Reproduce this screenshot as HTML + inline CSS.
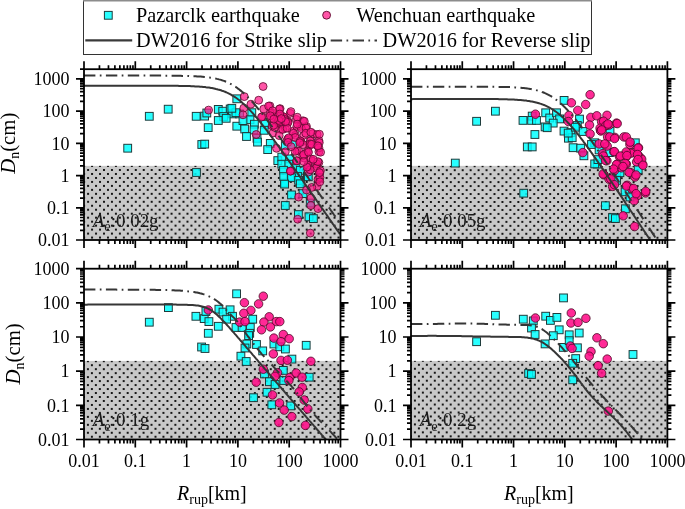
<!DOCTYPE html><html><head><meta charset="utf-8"><style>html,body{margin:0;padding:0;background:#fff;}svg{display:block;will-change:transform;}</style></head><body>
<svg width="685" height="509" viewBox="0 0 685 509" style="font-family:'Liberation Serif',serif">
<defs>
<pattern id="dots1" patternUnits="userSpaceOnUse" width="7.95" height="7.95" x="-71.90" y="10.00"><rect x="0" y="0" width="2" height="2" fill="#151515"/><rect x="3.975" y="3.975" width="2" height="2" fill="#151515"/></pattern>
<pattern id="dots2" patternUnits="userSpaceOnUse" width="7.95" height="7.95" x="255.00" y="10.20"><rect x="0" y="0" width="2" height="2" fill="#151515"/><rect x="3.975" y="3.975" width="2" height="2" fill="#151515"/></pattern>
<pattern id="dots3" patternUnits="userSpaceOnUse" width="7.95" height="7.95" x="-68.10" y="205.20"><rect x="0" y="0" width="2" height="2" fill="#151515"/><rect x="3.975" y="3.975" width="2" height="2" fill="#151515"/></pattern>
<pattern id="dots4" patternUnits="userSpaceOnUse" width="7.95" height="7.95" x="258.90" y="204.80"><rect x="0" y="0" width="2" height="2" fill="#151515"/><rect x="3.975" y="3.975" width="2" height="2" fill="#151515"/></pattern>
<clipPath id="clip1"><rect x="84" y="69.20" width="256.50" height="170.80"/></clipPath>
<clipPath id="clip2"><rect x="411" y="69.20" width="256.40" height="170.80"/></clipPath>
<clipPath id="clip3"><rect x="84" y="268.70" width="256.50" height="170.80"/></clipPath>
<clipPath id="clip4"><rect x="411" y="268.70" width="256.40" height="170.80"/></clipPath>
</defs>
<rect x="84" y="165.86" width="256.50" height="74.14" fill="#c8c8c8"/>
<rect x="84" y="165.86" width="256.50" height="74.14" fill="url(#dots1)"/>
<g clip-path="url(#clip1)">
<rect x="123.8" y="144.3" width="7.8" height="7.8" fill="#00ffff" fill-opacity="0.84" stroke="#1e3c3c" stroke-width="1"/>
<rect x="145.4" y="112.4" width="7.8" height="7.8" fill="#00ffff" fill-opacity="0.84" stroke="#1e3c3c" stroke-width="1"/>
<rect x="164.3" y="105.3" width="7.8" height="7.8" fill="#00ffff" fill-opacity="0.84" stroke="#1e3c3c" stroke-width="1"/>
<rect x="192.3" y="112.4" width="7.8" height="7.8" fill="#00ffff" fill-opacity="0.84" stroke="#1e3c3c" stroke-width="1"/>
<rect x="192.6" y="168.6" width="7.8" height="7.8" fill="#00ffff" fill-opacity="0.84" stroke="#1e3c3c" stroke-width="1"/>
<rect x="200.7" y="112.2" width="7.8" height="7.8" fill="#00ffff" fill-opacity="0.84" stroke="#1e3c3c" stroke-width="1"/>
<rect x="202.9" y="109.1" width="7.8" height="7.8" fill="#00ffff" fill-opacity="0.84" stroke="#1e3c3c" stroke-width="1"/>
<rect x="204.3" y="123.7" width="7.8" height="7.8" fill="#00ffff" fill-opacity="0.84" stroke="#1e3c3c" stroke-width="1"/>
<rect x="197.9" y="140.6" width="7.8" height="7.8" fill="#00ffff" fill-opacity="0.84" stroke="#1e3c3c" stroke-width="1"/>
<rect x="200.8" y="140.2" width="7.8" height="7.8" fill="#00ffff" fill-opacity="0.84" stroke="#1e3c3c" stroke-width="1"/>
<rect x="214.4" y="105.5" width="7.8" height="7.8" fill="#00ffff" fill-opacity="0.84" stroke="#1e3c3c" stroke-width="1"/>
<rect x="218.8" y="107.3" width="7.8" height="7.8" fill="#00ffff" fill-opacity="0.84" stroke="#1e3c3c" stroke-width="1"/>
<rect x="226.3" y="105.1" width="7.8" height="7.8" fill="#00ffff" fill-opacity="0.84" stroke="#1e3c3c" stroke-width="1"/>
<rect x="228.5" y="110.0" width="7.8" height="7.8" fill="#00ffff" fill-opacity="0.84" stroke="#1e3c3c" stroke-width="1"/>
<rect x="219.7" y="112.6" width="7.8" height="7.8" fill="#00ffff" fill-opacity="0.84" stroke="#1e3c3c" stroke-width="1"/>
<rect x="214.4" y="116.6" width="7.8" height="7.8" fill="#00ffff" fill-opacity="0.84" stroke="#1e3c3c" stroke-width="1"/>
<rect x="222.3" y="114.4" width="7.8" height="7.8" fill="#00ffff" fill-opacity="0.84" stroke="#1e3c3c" stroke-width="1"/>
<rect x="232.9" y="94.9" width="7.8" height="7.8" fill="#00ffff" fill-opacity="0.84" stroke="#1e3c3c" stroke-width="1"/>
<rect x="232.9" y="122.3" width="7.8" height="7.8" fill="#00ffff" fill-opacity="0.84" stroke="#1e3c3c" stroke-width="1"/>
<rect x="235.6" y="110.0" width="7.8" height="7.8" fill="#00ffff" fill-opacity="0.84" stroke="#1e3c3c" stroke-width="1"/>
<rect x="232.0" y="108.8" width="7.8" height="7.8" fill="#00ffff" fill-opacity="0.84" stroke="#1e3c3c" stroke-width="1"/>
<rect x="247.9" y="108.8" width="7.8" height="7.8" fill="#00ffff" fill-opacity="0.84" stroke="#1e3c3c" stroke-width="1"/>
<rect x="246.1" y="115.8" width="7.8" height="7.8" fill="#00ffff" fill-opacity="0.84" stroke="#1e3c3c" stroke-width="1"/>
<rect x="239.1" y="116.7" width="7.8" height="7.8" fill="#00ffff" fill-opacity="0.84" stroke="#1e3c3c" stroke-width="1"/>
<rect x="240.8" y="125.1" width="7.8" height="7.8" fill="#00ffff" fill-opacity="0.84" stroke="#1e3c3c" stroke-width="1"/>
<rect x="250.5" y="120.3" width="7.8" height="7.8" fill="#00ffff" fill-opacity="0.84" stroke="#1e3c3c" stroke-width="1"/>
<rect x="250.1" y="126.0" width="7.8" height="7.8" fill="#00ffff" fill-opacity="0.84" stroke="#1e3c3c" stroke-width="1"/>
<rect x="261.1" y="120.3" width="7.8" height="7.8" fill="#00ffff" fill-opacity="0.84" stroke="#1e3c3c" stroke-width="1"/>
<rect x="260.3" y="126.4" width="7.8" height="7.8" fill="#00ffff" fill-opacity="0.84" stroke="#1e3c3c" stroke-width="1"/>
<rect x="242.6" y="132.6" width="7.8" height="7.8" fill="#00ffff" fill-opacity="0.84" stroke="#1e3c3c" stroke-width="1"/>
<rect x="253.1" y="134.4" width="7.8" height="7.8" fill="#00ffff" fill-opacity="0.84" stroke="#1e3c3c" stroke-width="1"/>
<rect x="253.6" y="138.2" width="7.8" height="7.8" fill="#00ffff" fill-opacity="0.84" stroke="#1e3c3c" stroke-width="1"/>
<rect x="266.4" y="139.5" width="7.8" height="7.8" fill="#00ffff" fill-opacity="0.84" stroke="#1e3c3c" stroke-width="1"/>
<rect x="263.8" y="145.7" width="7.8" height="7.8" fill="#00ffff" fill-opacity="0.84" stroke="#1e3c3c" stroke-width="1"/>
<rect x="273.9" y="156.7" width="7.8" height="7.8" fill="#00ffff" fill-opacity="0.84" stroke="#1e3c3c" stroke-width="1"/>
<rect x="281.4" y="141.7" width="7.8" height="7.8" fill="#00ffff" fill-opacity="0.84" stroke="#1e3c3c" stroke-width="1"/>
<rect x="288.5" y="140.8" width="7.8" height="7.8" fill="#00ffff" fill-opacity="0.84" stroke="#1e3c3c" stroke-width="1"/>
<rect x="277.9" y="153.2" width="7.8" height="7.8" fill="#00ffff" fill-opacity="0.84" stroke="#1e3c3c" stroke-width="1"/>
<rect x="285.8" y="155.0" width="7.8" height="7.8" fill="#00ffff" fill-opacity="0.84" stroke="#1e3c3c" stroke-width="1"/>
<rect x="277.9" y="160.3" width="7.8" height="7.8" fill="#00ffff" fill-opacity="0.84" stroke="#1e3c3c" stroke-width="1"/>
<rect x="284.9" y="160.3" width="7.8" height="7.8" fill="#00ffff" fill-opacity="0.84" stroke="#1e3c3c" stroke-width="1"/>
<rect x="279.6" y="166.4" width="7.8" height="7.8" fill="#00ffff" fill-opacity="0.84" stroke="#1e3c3c" stroke-width="1"/>
<rect x="292.0" y="164.7" width="7.8" height="7.8" fill="#00ffff" fill-opacity="0.84" stroke="#1e3c3c" stroke-width="1"/>
<rect x="296.4" y="166.4" width="7.8" height="7.8" fill="#00ffff" fill-opacity="0.84" stroke="#1e3c3c" stroke-width="1"/>
<rect x="286.7" y="172.6" width="7.8" height="7.8" fill="#00ffff" fill-opacity="0.84" stroke="#1e3c3c" stroke-width="1"/>
<rect x="293.8" y="172.6" width="7.8" height="7.8" fill="#00ffff" fill-opacity="0.84" stroke="#1e3c3c" stroke-width="1"/>
<rect x="303.5" y="172.6" width="7.8" height="7.8" fill="#00ffff" fill-opacity="0.84" stroke="#1e3c3c" stroke-width="1"/>
<rect x="280.5" y="179.1" width="7.8" height="7.8" fill="#00ffff" fill-opacity="0.84" stroke="#1e3c3c" stroke-width="1"/>
<rect x="287.6" y="173.8" width="7.8" height="7.8" fill="#00ffff" fill-opacity="0.84" stroke="#1e3c3c" stroke-width="1"/>
<rect x="294.7" y="176.4" width="7.8" height="7.8" fill="#00ffff" fill-opacity="0.84" stroke="#1e3c3c" stroke-width="1"/>
<rect x="296.4" y="179.9" width="7.8" height="7.8" fill="#00ffff" fill-opacity="0.84" stroke="#1e3c3c" stroke-width="1"/>
<rect x="287.6" y="191.0" width="7.8" height="7.8" fill="#00ffff" fill-opacity="0.84" stroke="#1e3c3c" stroke-width="1"/>
<rect x="299.1" y="189.7" width="7.8" height="7.8" fill="#00ffff" fill-opacity="0.84" stroke="#1e3c3c" stroke-width="1"/>
<rect x="281.4" y="201.6" width="7.8" height="7.8" fill="#00ffff" fill-opacity="0.84" stroke="#1e3c3c" stroke-width="1"/>
<rect x="294.5" y="210.7" width="7.8" height="7.8" fill="#00ffff" fill-opacity="0.84" stroke="#1e3c3c" stroke-width="1"/>
<rect x="305.1" y="212.9" width="7.8" height="7.8" fill="#00ffff" fill-opacity="0.84" stroke="#1e3c3c" stroke-width="1"/>
<rect x="309.5" y="214.7" width="7.8" height="7.8" fill="#00ffff" fill-opacity="0.84" stroke="#1e3c3c" stroke-width="1"/>
<rect x="306.4" y="199.2" width="7.8" height="7.8" fill="#00ffff" fill-opacity="0.84" stroke="#1e3c3c" stroke-width="1"/>
<rect x="304.4" y="172.9" width="7.8" height="7.8" fill="#00ffff" fill-opacity="0.84" stroke="#1e3c3c" stroke-width="1"/>
<rect x="279.8" y="172.7" width="7.8" height="7.8" fill="#00ffff" fill-opacity="0.84" stroke="#1e3c3c" stroke-width="1"/>
<rect x="280.7" y="180.2" width="7.8" height="7.8" fill="#00ffff" fill-opacity="0.84" stroke="#1e3c3c" stroke-width="1"/>
<rect x="227.9" y="104.4" width="7.8" height="7.8" fill="#00ffff" fill-opacity="0.84" stroke="#1e3c3c" stroke-width="1"/>
<circle cx="208.6" cy="110.1" r="3.95" fill="#ff1485" fill-opacity="0.72" stroke="#5a0a2c" stroke-width="0.8"/>
<circle cx="263.1" cy="86.5" r="3.95" fill="#ff1485" fill-opacity="0.72" stroke="#5a0a2c" stroke-width="0.8"/>
<circle cx="244.3" cy="96.6" r="3.95" fill="#ff1485" fill-opacity="0.72" stroke="#5a0a2c" stroke-width="0.8"/>
<circle cx="258.7" cy="100.2" r="3.95" fill="#ff1485" fill-opacity="0.72" stroke="#5a0a2c" stroke-width="0.8"/>
<circle cx="250.9" cy="104.2" r="3.95" fill="#ff1485" fill-opacity="0.72" stroke="#5a0a2c" stroke-width="0.8"/>
<circle cx="243.8" cy="108.1" r="3.95" fill="#ff1485" fill-opacity="0.72" stroke="#5a0a2c" stroke-width="0.8"/>
<circle cx="263.7" cy="109.0" r="3.95" fill="#ff1485" fill-opacity="0.72" stroke="#5a0a2c" stroke-width="0.8"/>
<circle cx="269.9" cy="105.9" r="3.95" fill="#ff1485" fill-opacity="0.72" stroke="#5a0a2c" stroke-width="0.8"/>
<circle cx="280.1" cy="108.6" r="3.95" fill="#ff1485" fill-opacity="0.72" stroke="#5a0a2c" stroke-width="0.8"/>
<circle cx="243.0" cy="114.8" r="3.95" fill="#ff1485" fill-opacity="0.72" stroke="#5a0a2c" stroke-width="0.8"/>
<circle cx="262.4" cy="116.5" r="3.95" fill="#ff1485" fill-opacity="0.72" stroke="#5a0a2c" stroke-width="0.8"/>
<circle cx="272.1" cy="113.0" r="3.95" fill="#ff1485" fill-opacity="0.72" stroke="#5a0a2c" stroke-width="0.8"/>
<circle cx="261.5" cy="117.1" r="3.95" fill="#ff1485" fill-opacity="0.72" stroke="#5a0a2c" stroke-width="0.8"/>
<circle cx="273.9" cy="116.2" r="3.95" fill="#ff1485" fill-opacity="0.72" stroke="#5a0a2c" stroke-width="0.8"/>
<circle cx="281.0" cy="115.3" r="3.95" fill="#ff1485" fill-opacity="0.72" stroke="#5a0a2c" stroke-width="0.8"/>
<circle cx="277.4" cy="123.3" r="3.95" fill="#ff1485" fill-opacity="0.72" stroke="#5a0a2c" stroke-width="0.8"/>
<circle cx="272.1" cy="125.9" r="3.95" fill="#ff1485" fill-opacity="0.72" stroke="#5a0a2c" stroke-width="0.8"/>
<circle cx="256.2" cy="134.5" r="3.95" fill="#ff1485" fill-opacity="0.72" stroke="#5a0a2c" stroke-width="0.8"/>
<circle cx="281.0" cy="129.5" r="3.95" fill="#ff1485" fill-opacity="0.72" stroke="#5a0a2c" stroke-width="0.8"/>
<circle cx="273.0" cy="133.0" r="3.95" fill="#ff1485" fill-opacity="0.72" stroke="#5a0a2c" stroke-width="0.8"/>
<circle cx="279.2" cy="135.6" r="3.95" fill="#ff1485" fill-opacity="0.72" stroke="#5a0a2c" stroke-width="0.8"/>
<circle cx="290.2" cy="113.3" r="3.95" fill="#ff1485" fill-opacity="0.72" stroke="#5a0a2c" stroke-width="0.8"/>
<circle cx="284.0" cy="117.7" r="3.95" fill="#ff1485" fill-opacity="0.72" stroke="#5a0a2c" stroke-width="0.8"/>
<circle cx="288.0" cy="121.2" r="3.95" fill="#ff1485" fill-opacity="0.72" stroke="#5a0a2c" stroke-width="0.8"/>
<circle cx="296.3" cy="119.4" r="3.95" fill="#ff1485" fill-opacity="0.72" stroke="#5a0a2c" stroke-width="0.8"/>
<circle cx="303.0" cy="120.8" r="3.95" fill="#ff1485" fill-opacity="0.72" stroke="#5a0a2c" stroke-width="0.8"/>
<circle cx="280.9" cy="123.9" r="3.95" fill="#ff1485" fill-opacity="0.72" stroke="#5a0a2c" stroke-width="0.8"/>
<circle cx="285.3" cy="128.3" r="3.95" fill="#ff1485" fill-opacity="0.72" stroke="#5a0a2c" stroke-width="0.8"/>
<circle cx="292.4" cy="131.4" r="3.95" fill="#ff1485" fill-opacity="0.72" stroke="#5a0a2c" stroke-width="0.8"/>
<circle cx="300.3" cy="126.5" r="3.95" fill="#ff1485" fill-opacity="0.72" stroke="#5a0a2c" stroke-width="0.8"/>
<circle cx="306.5" cy="126.5" r="3.95" fill="#ff1485" fill-opacity="0.72" stroke="#5a0a2c" stroke-width="0.8"/>
<circle cx="295.5" cy="135.3" r="3.95" fill="#ff1485" fill-opacity="0.72" stroke="#5a0a2c" stroke-width="0.8"/>
<circle cx="303.9" cy="135.3" r="3.95" fill="#ff1485" fill-opacity="0.72" stroke="#5a0a2c" stroke-width="0.8"/>
<circle cx="312.7" cy="133.6" r="3.95" fill="#ff1485" fill-opacity="0.72" stroke="#5a0a2c" stroke-width="0.8"/>
<circle cx="317.1" cy="134.5" r="3.95" fill="#ff1485" fill-opacity="0.72" stroke="#5a0a2c" stroke-width="0.8"/>
<circle cx="288.0" cy="138.9" r="3.95" fill="#ff1485" fill-opacity="0.72" stroke="#5a0a2c" stroke-width="0.8"/>
<circle cx="300.3" cy="141.5" r="3.95" fill="#ff1485" fill-opacity="0.72" stroke="#5a0a2c" stroke-width="0.8"/>
<circle cx="310.9" cy="140.6" r="3.95" fill="#ff1485" fill-opacity="0.72" stroke="#5a0a2c" stroke-width="0.8"/>
<circle cx="318.9" cy="140.6" r="3.95" fill="#ff1485" fill-opacity="0.72" stroke="#5a0a2c" stroke-width="0.8"/>
<circle cx="287.1" cy="140.3" r="3.95" fill="#ff1485" fill-opacity="0.72" stroke="#5a0a2c" stroke-width="0.8"/>
<circle cx="301.2" cy="142.1" r="3.95" fill="#ff1485" fill-opacity="0.72" stroke="#5a0a2c" stroke-width="0.8"/>
<circle cx="309.2" cy="145.6" r="3.95" fill="#ff1485" fill-opacity="0.72" stroke="#5a0a2c" stroke-width="0.8"/>
<circle cx="317.1" cy="145.6" r="3.95" fill="#ff1485" fill-opacity="0.72" stroke="#5a0a2c" stroke-width="0.8"/>
<circle cx="285.3" cy="151.8" r="3.95" fill="#ff1485" fill-opacity="0.72" stroke="#5a0a2c" stroke-width="0.8"/>
<circle cx="296.8" cy="150.9" r="3.95" fill="#ff1485" fill-opacity="0.72" stroke="#5a0a2c" stroke-width="0.8"/>
<circle cx="306.5" cy="152.7" r="3.95" fill="#ff1485" fill-opacity="0.72" stroke="#5a0a2c" stroke-width="0.8"/>
<circle cx="318.9" cy="151.8" r="3.95" fill="#ff1485" fill-opacity="0.72" stroke="#5a0a2c" stroke-width="0.8"/>
<circle cx="296.8" cy="160.6" r="3.95" fill="#ff1485" fill-opacity="0.72" stroke="#5a0a2c" stroke-width="0.8"/>
<circle cx="303.9" cy="158.0" r="3.95" fill="#ff1485" fill-opacity="0.72" stroke="#5a0a2c" stroke-width="0.8"/>
<circle cx="310.9" cy="158.9" r="3.95" fill="#ff1485" fill-opacity="0.72" stroke="#5a0a2c" stroke-width="0.8"/>
<circle cx="318.9" cy="162.4" r="3.95" fill="#ff1485" fill-opacity="0.72" stroke="#5a0a2c" stroke-width="0.8"/>
<circle cx="308.3" cy="166.8" r="3.95" fill="#ff1485" fill-opacity="0.72" stroke="#5a0a2c" stroke-width="0.8"/>
<circle cx="317.1" cy="166.8" r="3.95" fill="#ff1485" fill-opacity="0.72" stroke="#5a0a2c" stroke-width="0.8"/>
<circle cx="290.6" cy="171.2" r="3.95" fill="#ff1485" fill-opacity="0.72" stroke="#5a0a2c" stroke-width="0.8"/>
<circle cx="308.3" cy="172.1" r="3.95" fill="#ff1485" fill-opacity="0.72" stroke="#5a0a2c" stroke-width="0.8"/>
<circle cx="319.8" cy="173.0" r="3.95" fill="#ff1485" fill-opacity="0.72" stroke="#5a0a2c" stroke-width="0.8"/>
<circle cx="318.9" cy="178.3" r="3.95" fill="#ff1485" fill-opacity="0.72" stroke="#5a0a2c" stroke-width="0.8"/>
<circle cx="318.0" cy="179.4" r="3.95" fill="#ff1485" fill-opacity="0.72" stroke="#5a0a2c" stroke-width="0.8"/>
<circle cx="317.1" cy="186.5" r="3.95" fill="#ff1485" fill-opacity="0.72" stroke="#5a0a2c" stroke-width="0.8"/>
<circle cx="311.8" cy="187.4" r="3.95" fill="#ff1485" fill-opacity="0.72" stroke="#5a0a2c" stroke-width="0.8"/>
<circle cx="306.5" cy="190.0" r="3.95" fill="#ff1485" fill-opacity="0.72" stroke="#5a0a2c" stroke-width="0.8"/>
<circle cx="298.6" cy="197.1" r="3.95" fill="#ff1485" fill-opacity="0.72" stroke="#5a0a2c" stroke-width="0.8"/>
<circle cx="310.9" cy="198.0" r="3.95" fill="#ff1485" fill-opacity="0.72" stroke="#5a0a2c" stroke-width="0.8"/>
<circle cx="310.9" cy="205.5" r="3.95" fill="#ff1485" fill-opacity="0.72" stroke="#5a0a2c" stroke-width="0.8"/>
<circle cx="318.0" cy="208.6" r="3.95" fill="#ff1485" fill-opacity="0.72" stroke="#5a0a2c" stroke-width="0.8"/>
<circle cx="297.7" cy="219.2" r="3.95" fill="#ff1485" fill-opacity="0.72" stroke="#5a0a2c" stroke-width="0.8"/>
<circle cx="310.3" cy="233.1" r="3.95" fill="#ff1485" fill-opacity="0.72" stroke="#5a0a2c" stroke-width="0.8"/>
<circle cx="276.5" cy="148.3" r="3.95" fill="#ff1485" fill-opacity="0.72" stroke="#5a0a2c" stroke-width="0.8"/>
<circle cx="270.3" cy="113.3" r="3.95" fill="#ff1485" fill-opacity="0.72" stroke="#5a0a2c" stroke-width="0.8"/>
<circle cx="274.7" cy="127.4" r="3.95" fill="#ff1485" fill-opacity="0.72" stroke="#5a0a2c" stroke-width="0.8"/>
<circle cx="296.8" cy="126.5" r="3.95" fill="#ff1485" fill-opacity="0.72" stroke="#5a0a2c" stroke-width="0.8"/>
<circle cx="287.1" cy="122.1" r="3.95" fill="#ff1485" fill-opacity="0.72" stroke="#5a0a2c" stroke-width="0.8"/>
<circle cx="278.3" cy="122.1" r="3.95" fill="#ff1485" fill-opacity="0.72" stroke="#5a0a2c" stroke-width="0.8"/>
<circle cx="283.6" cy="116.8" r="3.95" fill="#ff1485" fill-opacity="0.72" stroke="#5a0a2c" stroke-width="0.8"/>
<circle cx="274.7" cy="116.8" r="3.95" fill="#ff1485" fill-opacity="0.72" stroke="#5a0a2c" stroke-width="0.8"/>
<circle cx="268.6" cy="106.1" r="3.95" fill="#ff1485" fill-opacity="0.72" stroke="#5a0a2c" stroke-width="0.8"/>
<circle cx="279.4" cy="109.1" r="3.95" fill="#ff1485" fill-opacity="0.72" stroke="#5a0a2c" stroke-width="0.8"/>
<circle cx="272.7" cy="110.8" r="3.95" fill="#ff1485" fill-opacity="0.72" stroke="#5a0a2c" stroke-width="0.8"/>
<circle cx="271.5" cy="117.9" r="3.95" fill="#ff1485" fill-opacity="0.72" stroke="#5a0a2c" stroke-width="0.8"/>
<circle cx="279.8" cy="114.0" r="3.95" fill="#ff1485" fill-opacity="0.72" stroke="#5a0a2c" stroke-width="0.8"/>
<circle cx="279.9" cy="123.2" r="3.95" fill="#ff1485" fill-opacity="0.72" stroke="#5a0a2c" stroke-width="0.8"/>
<circle cx="282.7" cy="129.4" r="3.95" fill="#ff1485" fill-opacity="0.72" stroke="#5a0a2c" stroke-width="0.8"/>
<circle cx="290.9" cy="111.6" r="3.95" fill="#ff1485" fill-opacity="0.72" stroke="#5a0a2c" stroke-width="0.8"/>
<circle cx="284.7" cy="119.5" r="3.95" fill="#ff1485" fill-opacity="0.72" stroke="#5a0a2c" stroke-width="0.8"/>
<circle cx="288.1" cy="122.4" r="3.95" fill="#ff1485" fill-opacity="0.72" stroke="#5a0a2c" stroke-width="0.8"/>
<circle cx="297.2" cy="117.2" r="3.95" fill="#ff1485" fill-opacity="0.72" stroke="#5a0a2c" stroke-width="0.8"/>
<circle cx="304.3" cy="121.3" r="3.95" fill="#ff1485" fill-opacity="0.72" stroke="#5a0a2c" stroke-width="0.8"/>
<circle cx="279.9" cy="121.6" r="3.95" fill="#ff1485" fill-opacity="0.72" stroke="#5a0a2c" stroke-width="0.8"/>
<circle cx="287.1" cy="128.2" r="3.95" fill="#ff1485" fill-opacity="0.72" stroke="#5a0a2c" stroke-width="0.8"/>
<circle cx="293.5" cy="133.3" r="3.95" fill="#ff1485" fill-opacity="0.72" stroke="#5a0a2c" stroke-width="0.8"/>
<circle cx="301.4" cy="128.6" r="3.95" fill="#ff1485" fill-opacity="0.72" stroke="#5a0a2c" stroke-width="0.8"/>
<circle cx="306.0" cy="128.0" r="3.95" fill="#ff1485" fill-opacity="0.72" stroke="#5a0a2c" stroke-width="0.8"/>
<circle cx="295.2" cy="137.5" r="3.95" fill="#ff1485" fill-opacity="0.72" stroke="#5a0a2c" stroke-width="0.8"/>
<circle cx="305.8" cy="133.3" r="3.95" fill="#ff1485" fill-opacity="0.72" stroke="#5a0a2c" stroke-width="0.8"/>
<circle cx="310.9" cy="132.2" r="3.95" fill="#ff1485" fill-opacity="0.72" stroke="#5a0a2c" stroke-width="0.8"/>
<circle cx="319.4" cy="134.2" r="3.95" fill="#ff1485" fill-opacity="0.72" stroke="#5a0a2c" stroke-width="0.8"/>
<circle cx="288.6" cy="137.9" r="3.95" fill="#ff1485" fill-opacity="0.72" stroke="#5a0a2c" stroke-width="0.8"/>
<circle cx="300.3" cy="140.9" r="3.95" fill="#ff1485" fill-opacity="0.72" stroke="#5a0a2c" stroke-width="0.8"/>
<circle cx="310.2" cy="141.0" r="3.95" fill="#ff1485" fill-opacity="0.72" stroke="#5a0a2c" stroke-width="0.8"/>
<circle cx="319.3" cy="142.6" r="3.95" fill="#ff1485" fill-opacity="0.72" stroke="#5a0a2c" stroke-width="0.8"/>
<circle cx="288.0" cy="142.4" r="3.95" fill="#ff1485" fill-opacity="0.72" stroke="#5a0a2c" stroke-width="0.8"/>
<circle cx="303.0" cy="144.6" r="3.95" fill="#ff1485" fill-opacity="0.72" stroke="#5a0a2c" stroke-width="0.8"/>
<circle cx="310.1" cy="143.9" r="3.95" fill="#ff1485" fill-opacity="0.72" stroke="#5a0a2c" stroke-width="0.8"/>
<circle cx="318.9" cy="147.9" r="3.95" fill="#ff1485" fill-opacity="0.72" stroke="#5a0a2c" stroke-width="0.8"/>
<circle cx="298.8" cy="151.2" r="3.95" fill="#ff1485" fill-opacity="0.72" stroke="#5a0a2c" stroke-width="0.8"/>
<circle cx="307.6" cy="151.3" r="3.95" fill="#ff1485" fill-opacity="0.72" stroke="#5a0a2c" stroke-width="0.8"/>
<circle cx="320.6" cy="152.2" r="3.95" fill="#ff1485" fill-opacity="0.72" stroke="#5a0a2c" stroke-width="0.8"/>
<circle cx="302.8" cy="155.8" r="3.95" fill="#ff1485" fill-opacity="0.72" stroke="#5a0a2c" stroke-width="0.8"/>
<circle cx="312.7" cy="161.3" r="3.95" fill="#ff1485" fill-opacity="0.72" stroke="#5a0a2c" stroke-width="0.8"/>
<circle cx="316.8" cy="163.9" r="3.95" fill="#ff1485" fill-opacity="0.72" stroke="#5a0a2c" stroke-width="0.8"/>
<circle cx="307.9" cy="165.1" r="3.95" fill="#ff1485" fill-opacity="0.72" stroke="#5a0a2c" stroke-width="0.8"/>
<circle cx="316.1" cy="168.1" r="3.95" fill="#ff1485" fill-opacity="0.72" stroke="#5a0a2c" stroke-width="0.8"/>
<circle cx="310.2" cy="169.8" r="3.95" fill="#ff1485" fill-opacity="0.72" stroke="#5a0a2c" stroke-width="0.8"/>
<circle cx="320.4" cy="170.7" r="3.95" fill="#ff1485" fill-opacity="0.72" stroke="#5a0a2c" stroke-width="0.8"/>
<circle cx="320.0" cy="177.5" r="3.95" fill="#ff1485" fill-opacity="0.72" stroke="#5a0a2c" stroke-width="0.8"/>
<circle cx="319.9" cy="181.8" r="3.95" fill="#ff1485" fill-opacity="0.72" stroke="#5a0a2c" stroke-width="0.8"/>
<circle cx="270.3" cy="115.8" r="3.95" fill="#ff1485" fill-opacity="0.72" stroke="#5a0a2c" stroke-width="0.8"/>
<circle cx="273.7" cy="125.3" r="3.95" fill="#ff1485" fill-opacity="0.72" stroke="#5a0a2c" stroke-width="0.8"/>
<circle cx="297.3" cy="124.2" r="3.95" fill="#ff1485" fill-opacity="0.72" stroke="#5a0a2c" stroke-width="0.8"/>
<circle cx="285.6" cy="121.6" r="3.95" fill="#ff1485" fill-opacity="0.72" stroke="#5a0a2c" stroke-width="0.8"/>
<circle cx="278.9" cy="120.4" r="3.95" fill="#ff1485" fill-opacity="0.72" stroke="#5a0a2c" stroke-width="0.8"/>
<circle cx="281.3" cy="118.6" r="3.95" fill="#ff1485" fill-opacity="0.72" stroke="#5a0a2c" stroke-width="0.8"/>
<circle cx="273.8" cy="119.1" r="3.95" fill="#ff1485" fill-opacity="0.72" stroke="#5a0a2c" stroke-width="0.8"/>
<circle cx="295.1" cy="151.4" r="3.95" fill="#ff1485" fill-opacity="0.72" stroke="#5a0a2c" stroke-width="0.8"/>
<circle cx="296.7" cy="160.8" r="3.95" fill="#ff1485" fill-opacity="0.72" stroke="#5a0a2c" stroke-width="0.8"/>
<circle cx="291.1" cy="146.7" r="3.95" fill="#ff1485" fill-opacity="0.72" stroke="#5a0a2c" stroke-width="0.8"/>
<circle cx="299.8" cy="142.7" r="3.95" fill="#ff1485" fill-opacity="0.72" stroke="#5a0a2c" stroke-width="0.8"/>
<circle cx="303.7" cy="154.5" r="3.95" fill="#ff1485" fill-opacity="0.72" stroke="#5a0a2c" stroke-width="0.8"/>
<circle cx="306.9" cy="167.1" r="3.95" fill="#ff1485" fill-opacity="0.72" stroke="#5a0a2c" stroke-width="0.8"/>
<circle cx="308.5" cy="152.2" r="3.95" fill="#ff1485" fill-opacity="0.72" stroke="#5a0a2c" stroke-width="0.8"/>
<circle cx="311.6" cy="144.3" r="3.95" fill="#ff1485" fill-opacity="0.72" stroke="#5a0a2c" stroke-width="0.8"/>
<circle cx="317.9" cy="145.9" r="3.95" fill="#ff1485" fill-opacity="0.72" stroke="#5a0a2c" stroke-width="0.8"/>
<circle cx="317.9" cy="161.6" r="3.95" fill="#ff1485" fill-opacity="0.72" stroke="#5a0a2c" stroke-width="0.8"/>
<circle cx="319.5" cy="172.6" r="3.95" fill="#ff1485" fill-opacity="0.72" stroke="#5a0a2c" stroke-width="0.8"/>
<circle cx="313.2" cy="159.3" r="3.95" fill="#ff1485" fill-opacity="0.72" stroke="#5a0a2c" stroke-width="0.8"/>
<circle cx="290.4" cy="171.1" r="3.95" fill="#ff1485" fill-opacity="0.72" stroke="#5a0a2c" stroke-width="0.8"/>
<circle cx="303.7" cy="161.6" r="3.95" fill="#ff1485" fill-opacity="0.72" stroke="#5a0a2c" stroke-width="0.8"/>
<path d="M84.0 85.7 L85.0 85.7 L86.0 85.7 L87.0 85.7 L88.0 85.7 L89.0 85.7 L90.0 85.7 L91.0 85.7 L92.0 85.7 L93.0 85.7 L94.0 85.7 L95.0 85.7 L96.0 85.7 L97.0 85.7 L98.0 85.7 L99.0 85.7 L100.0 85.7 L101.0 85.7 L102.0 85.7 L103.0 85.7 L104.0 85.7 L105.0 85.7 L106.0 85.7 L107.0 85.7 L108.0 85.7 L109.0 85.7 L110.0 85.7 L111.0 85.7 L112.0 85.7 L113.0 85.7 L114.0 85.7 L115.0 85.7 L116.0 85.7 L117.0 85.7 L118.0 85.7 L119.0 85.7 L120.0 85.7 L121.0 85.7 L122.0 85.7 L123.0 85.7 L124.0 85.7 L125.0 85.7 L126.0 85.7 L127.0 85.7 L128.0 85.7 L129.0 85.7 L130.0 85.7 L131.0 85.7 L132.0 85.7 L133.0 85.7 L134.0 85.7 L135.0 85.7 L136.0 85.7 L137.0 85.7 L138.0 85.7 L139.0 85.7 L140.0 85.7 L141.0 85.7 L142.0 85.7 L143.0 85.7 L144.0 85.7 L145.0 85.7 L146.0 85.7 L147.0 85.7 L148.0 85.7 L149.0 85.7 L150.0 85.7 L151.0 85.7 L152.0 85.7 L153.0 85.7 L154.0 85.7 L155.0 85.7 L156.0 85.7 L157.0 85.7 L158.0 85.7 L159.0 85.7 L160.0 85.7 L161.0 85.7 L162.0 85.7 L163.0 85.7 L164.0 85.7 L165.0 85.7 L166.0 85.7 L167.0 85.7 L168.0 85.7 L169.0 85.7 L170.0 85.8 L171.0 85.8 L172.0 85.8 L173.0 85.8 L174.0 85.8 L175.0 85.8 L176.0 85.8 L177.0 85.8 L178.0 85.8 L179.0 85.9 L180.0 85.9 L181.0 85.9 L182.0 85.9 L183.0 85.9 L184.0 86.0 L185.0 86.0 L186.0 86.0 L187.0 86.0 L188.0 86.1 L189.0 86.1 L190.0 86.1 L191.0 86.2 L192.0 86.2 L193.0 86.3 L194.0 86.3 L195.0 86.4 L196.0 86.4 L197.0 86.5 L198.0 86.5 L199.0 86.6 L200.0 86.7 L201.0 86.8 L202.0 86.8 L203.0 86.9 L204.0 87.0 L205.0 87.1 L206.0 87.3 L207.0 87.4 L208.0 87.5 L209.0 87.6 L210.0 87.8 L211.0 88.0 L212.0 88.1 L213.0 88.3 L214.0 88.5 L215.0 88.7 L216.0 89.0 L217.0 89.2 L218.0 89.5 L219.0 89.7 L220.0 90.0 L221.0 90.3 L222.0 90.7 L223.0 91.0 L224.0 91.4 L225.0 91.8 L226.0 92.2 L227.0 92.7 L228.0 93.1 L229.0 93.6 L230.0 94.1 L231.0 94.7 L232.0 95.3 L233.0 95.9 L234.0 96.5 L235.0 97.1 L236.0 97.8 L237.0 98.5 L238.0 99.3 L239.0 100.0 L240.0 100.8 L241.0 101.6 L242.0 102.5 L243.0 103.4 L244.0 104.3 L245.0 105.2 L246.0 106.2 L247.0 107.1 L248.0 108.1 L249.0 109.2 L250.0 110.2 L251.0 111.3 L252.0 112.4 L253.0 113.5 L254.0 114.6 L255.0 115.8 L256.0 117.0 L257.0 118.1 L258.0 119.3 L259.0 120.6 L260.0 121.8 L261.0 123.0 L262.0 124.3 L263.0 125.6 L264.0 126.8 L265.0 128.1 L266.0 129.4 L267.0 130.7 L268.0 132.1 L269.0 133.4 L270.0 134.7 L271.0 136.1 L272.0 137.4 L273.0 138.8 L274.0 140.1 L275.0 141.5 L276.0 142.9 L277.0 144.3 L278.0 145.7 L279.0 147.0 L280.0 148.4 L281.0 149.8 L282.0 151.2 L283.0 152.6 L284.0 154.0 L285.0 155.4 L286.0 156.8 L287.0 158.2 L288.0 159.7 L289.0 161.1 L290.0 162.5 L291.0 163.9 L292.0 165.3 L293.0 166.8 L294.0 168.2 L295.0 169.6 L296.0 171.0 L297.0 172.4 L298.0 173.9 L299.0 175.3 L300.0 176.7 L301.0 178.2 L302.0 179.6 L303.0 181.0 L304.0 182.4 L305.0 183.9 L306.0 185.3 L307.0 186.7 L308.0 188.2 L309.0 189.6 L310.0 191.0 L311.0 192.5 L312.0 193.9 L313.0 195.3 L314.0 196.8 L315.0 198.2 L316.0 199.6 L317.0 201.1 L318.0 202.5 L319.0 204.0 L320.0 205.4 L321.0 206.8 L322.0 208.3 L323.0 209.7 L324.0 211.1 L325.0 212.6 L326.0 214.0 L327.0 215.4 L328.0 216.9 L329.0 218.3 L330.0 219.7 L331.0 221.2 L332.0 222.6 L333.0 224.1 L334.0 225.5 L335.0 226.9 L336.0 228.4 L337.0 229.8 L338.0 231.2 L339.0 232.7 L340.0 234.1" fill="none" stroke="#363636" stroke-width="2.0"/>
<path d="M84.0 75.6 L85.0 75.6 L86.0 75.6 L87.0 75.6 L88.0 75.6 L89.0 75.6 L90.0 75.6 L91.0 75.6 L92.0 75.6 L93.0 75.6 L94.0 75.6 L95.0 75.6 L96.0 75.6 L97.0 75.6 L98.0 75.6 L99.0 75.6 L100.0 75.6 L101.0 75.6 L102.0 75.6 L103.0 75.6 L104.0 75.6 L105.0 75.6 L106.0 75.6 L107.0 75.6 L108.0 75.6 L109.0 75.6 L110.0 75.6 L111.0 75.6 L112.0 75.6 L113.0 75.6 L114.0 75.6 L115.0 75.6 L116.0 75.6 L117.0 75.6 L118.0 75.6 L119.0 75.6 L120.0 75.6 L121.0 75.6 L122.0 75.6 L123.0 75.6 L124.0 75.6 L125.0 75.6 L126.0 75.6 L127.0 75.6 L128.0 75.6 L129.0 75.6 L130.0 75.6 L131.0 75.6 L132.0 75.6 L133.0 75.6 L134.0 75.6 L135.0 75.6 L136.0 75.6 L137.0 75.6 L138.0 75.6 L139.0 75.6 L140.0 75.6 L141.0 75.6 L142.0 75.6 L143.0 75.6 L144.0 75.6 L145.0 75.6 L146.0 75.6 L147.0 75.6 L148.0 75.6 L149.0 75.6 L150.0 75.6 L151.0 75.6 L152.0 75.6 L153.0 75.6 L154.0 75.6 L155.0 75.6 L156.0 75.6 L157.0 75.6 L158.0 75.6 L159.0 75.6 L160.0 75.6 L161.0 75.6 L162.0 75.6 L163.0 75.6 L164.0 75.7 L165.0 75.7 L166.0 75.7 L167.0 75.7 L168.0 75.7 L169.0 75.7 L170.0 75.7 L171.0 75.7 L172.0 75.7 L173.0 75.7 L174.0 75.7 L175.0 75.7 L176.0 75.8 L177.0 75.8 L178.0 75.8 L179.0 75.8 L180.0 75.8 L181.0 75.8 L182.0 75.9 L183.0 75.9 L184.0 75.9 L185.0 75.9 L186.0 75.9 L187.0 76.0 L188.0 76.0 L189.0 76.0 L190.0 76.1 L191.0 76.1 L192.0 76.1 L193.0 76.2 L194.0 76.2 L195.0 76.3 L196.0 76.3 L197.0 76.4 L198.0 76.4 L199.0 76.5 L200.0 76.5 L201.0 76.6 L202.0 76.7 L203.0 76.8 L204.0 76.9 L205.0 77.0 L206.0 77.1 L207.0 77.2 L208.0 77.3 L209.0 77.4 L210.0 77.6 L211.0 77.7 L212.0 77.9 L213.0 78.0 L214.0 78.2 L215.0 78.4 L216.0 78.6 L217.0 78.9 L218.0 79.1 L219.0 79.4 L220.0 79.6 L221.0 79.9 L222.0 80.3 L223.0 80.6 L224.0 80.9 L225.0 81.3 L226.0 81.7 L227.0 82.1 L228.0 82.6 L229.0 83.1 L230.0 83.6 L231.0 84.1 L232.0 84.6 L233.0 85.2 L234.0 85.8 L235.0 86.5 L236.0 87.1 L237.0 87.8 L238.0 88.6 L239.0 89.3 L240.0 90.1 L241.0 90.9 L242.0 91.7 L243.0 92.6 L244.0 93.5 L245.0 94.4 L246.0 95.4 L247.0 96.4 L248.0 97.4 L249.0 98.4 L250.0 99.4 L251.0 100.5 L252.0 101.6 L253.0 102.7 L254.0 103.8 L255.0 105.0 L256.0 106.2 L257.0 107.4 L258.0 108.6 L259.0 109.8 L260.0 111.0 L261.0 112.3 L262.0 113.5 L263.0 114.8 L264.0 116.1 L265.0 117.4 L266.0 118.7 L267.0 120.0 L268.0 121.3 L269.0 122.7 L270.0 124.0 L271.0 125.4 L272.0 126.7 L273.0 128.1 L274.0 129.4 L275.0 130.8 L276.0 132.2 L277.0 133.6 L278.0 135.0 L279.0 136.4 L280.0 137.7 L281.0 139.1 L282.0 140.5 L283.0 141.9 L284.0 143.4 L285.0 144.8 L286.0 146.2 L287.0 147.6 L288.0 149.0 L289.0 150.4 L290.0 151.8 L291.0 153.3 L292.0 154.7 L293.0 156.1 L294.0 157.5 L295.0 158.9 L296.0 160.4 L297.0 161.8 L298.0 163.2 L299.0 164.7 L300.0 166.1 L301.0 167.5 L302.0 168.9 L303.0 170.4 L304.0 171.8 L305.0 173.2 L306.0 174.7 L307.0 176.1 L308.0 177.5 L309.0 179.0 L310.0 180.4 L311.0 181.8 L312.0 183.3 L313.0 184.7 L314.0 186.1 L315.0 187.6 L316.0 189.0 L317.0 190.4 L318.0 191.9 L319.0 193.3 L320.0 194.7 L321.0 196.2 L322.0 197.6 L323.0 199.0 L324.0 200.5 L325.0 201.9 L326.0 203.3 L327.0 204.7 L328.0 206.2 L329.0 207.6 L330.0 209.0 L331.0 210.5 L332.0 211.9 L333.0 213.3 L334.0 214.8 L335.0 216.2 L336.0 217.6 L337.0 219.1 L338.0 220.5 L339.0 221.9 L340.0 223.4" fill="none" stroke="#363636" stroke-width="2.0" stroke-dasharray="11.4 4.4 1.7 4.4"/>
</g>
<rect x="411" y="165.86" width="256.40" height="74.14" fill="#c8c8c8"/>
<rect x="411" y="165.86" width="256.40" height="74.14" fill="url(#dots2)"/>
<g clip-path="url(#clip2)">
<rect x="451.4" y="159.2" width="7.8" height="7.8" fill="#00ffff" fill-opacity="0.84" stroke="#1e3c3c" stroke-width="1"/>
<rect x="472.7" y="117.4" width="7.8" height="7.8" fill="#00ffff" fill-opacity="0.84" stroke="#1e3c3c" stroke-width="1"/>
<rect x="491.5" y="107.3" width="7.8" height="7.8" fill="#00ffff" fill-opacity="0.84" stroke="#1e3c3c" stroke-width="1"/>
<rect x="519.1" y="116.5" width="7.8" height="7.8" fill="#00ffff" fill-opacity="0.84" stroke="#1e3c3c" stroke-width="1"/>
<rect x="528.3" y="112.2" width="7.8" height="7.8" fill="#00ffff" fill-opacity="0.84" stroke="#1e3c3c" stroke-width="1"/>
<rect x="527.7" y="116.5" width="7.8" height="7.8" fill="#00ffff" fill-opacity="0.84" stroke="#1e3c3c" stroke-width="1"/>
<rect x="532.6" y="116.5" width="7.8" height="7.8" fill="#00ffff" fill-opacity="0.84" stroke="#1e3c3c" stroke-width="1"/>
<rect x="541.8" y="108.9" width="7.8" height="7.8" fill="#00ffff" fill-opacity="0.84" stroke="#1e3c3c" stroke-width="1"/>
<rect x="545.8" y="114.1" width="7.8" height="7.8" fill="#00ffff" fill-opacity="0.84" stroke="#1e3c3c" stroke-width="1"/>
<rect x="552.6" y="108.9" width="7.8" height="7.8" fill="#00ffff" fill-opacity="0.84" stroke="#1e3c3c" stroke-width="1"/>
<rect x="555.7" y="115.0" width="7.8" height="7.8" fill="#00ffff" fill-opacity="0.84" stroke="#1e3c3c" stroke-width="1"/>
<rect x="549.3" y="119.2" width="7.8" height="7.8" fill="#00ffff" fill-opacity="0.84" stroke="#1e3c3c" stroke-width="1"/>
<rect x="541.2" y="123.0" width="7.8" height="7.8" fill="#00ffff" fill-opacity="0.84" stroke="#1e3c3c" stroke-width="1"/>
<rect x="531.0" y="130.6" width="7.8" height="7.8" fill="#00ffff" fill-opacity="0.84" stroke="#1e3c3c" stroke-width="1"/>
<rect x="523.4" y="143.0" width="7.8" height="7.8" fill="#00ffff" fill-opacity="0.84" stroke="#1e3c3c" stroke-width="1"/>
<rect x="528.3" y="143.0" width="7.8" height="7.8" fill="#00ffff" fill-opacity="0.84" stroke="#1e3c3c" stroke-width="1"/>
<rect x="560.2" y="96.5" width="7.8" height="7.8" fill="#00ffff" fill-opacity="0.84" stroke="#1e3c3c" stroke-width="1"/>
<rect x="560.1" y="127.2" width="7.8" height="7.8" fill="#00ffff" fill-opacity="0.84" stroke="#1e3c3c" stroke-width="1"/>
<rect x="564.5" y="134.3" width="7.8" height="7.8" fill="#00ffff" fill-opacity="0.84" stroke="#1e3c3c" stroke-width="1"/>
<rect x="575.6" y="115.2" width="7.8" height="7.8" fill="#00ffff" fill-opacity="0.84" stroke="#1e3c3c" stroke-width="1"/>
<rect x="573.4" y="121.6" width="7.8" height="7.8" fill="#00ffff" fill-opacity="0.84" stroke="#1e3c3c" stroke-width="1"/>
<rect x="566.9" y="128.7" width="7.8" height="7.8" fill="#00ffff" fill-opacity="0.84" stroke="#1e3c3c" stroke-width="1"/>
<rect x="579.1" y="127.6" width="7.8" height="7.8" fill="#00ffff" fill-opacity="0.84" stroke="#1e3c3c" stroke-width="1"/>
<rect x="606.1" y="127.3" width="7.8" height="7.8" fill="#00ffff" fill-opacity="0.84" stroke="#1e3c3c" stroke-width="1"/>
<rect x="568.3" y="133.8" width="7.8" height="7.8" fill="#00ffff" fill-opacity="0.84" stroke="#1e3c3c" stroke-width="1"/>
<rect x="631.4" y="138.9" width="7.8" height="7.8" fill="#00ffff" fill-opacity="0.84" stroke="#1e3c3c" stroke-width="1"/>
<rect x="605.4" y="148.7" width="7.8" height="7.8" fill="#00ffff" fill-opacity="0.84" stroke="#1e3c3c" stroke-width="1"/>
<rect x="593.3" y="160.2" width="7.8" height="7.8" fill="#00ffff" fill-opacity="0.84" stroke="#1e3c3c" stroke-width="1"/>
<rect x="612.7" y="169.9" width="7.8" height="7.8" fill="#00ffff" fill-opacity="0.84" stroke="#1e3c3c" stroke-width="1"/>
<rect x="616.0" y="168.8" width="7.8" height="7.8" fill="#00ffff" fill-opacity="0.84" stroke="#1e3c3c" stroke-width="1"/>
<rect x="612.7" y="176.4" width="7.8" height="7.8" fill="#00ffff" fill-opacity="0.84" stroke="#1e3c3c" stroke-width="1"/>
<rect x="621.2" y="187.9" width="7.8" height="7.8" fill="#00ffff" fill-opacity="0.84" stroke="#1e3c3c" stroke-width="1"/>
<rect x="626.1" y="193.1" width="7.8" height="7.8" fill="#00ffff" fill-opacity="0.84" stroke="#1e3c3c" stroke-width="1"/>
<rect x="634.3" y="165.6" width="7.8" height="7.8" fill="#00ffff" fill-opacity="0.84" stroke="#1e3c3c" stroke-width="1"/>
<rect x="543.3" y="123.8" width="7.8" height="7.8" fill="#00ffff" fill-opacity="0.84" stroke="#1e3c3c" stroke-width="1"/>
<rect x="564.3" y="129.2" width="7.8" height="7.8" fill="#00ffff" fill-opacity="0.84" stroke="#1e3c3c" stroke-width="1"/>
<rect x="569.2" y="143.8" width="7.8" height="7.8" fill="#00ffff" fill-opacity="0.84" stroke="#1e3c3c" stroke-width="1"/>
<rect x="576.8" y="144.3" width="7.8" height="7.8" fill="#00ffff" fill-opacity="0.84" stroke="#1e3c3c" stroke-width="1"/>
<rect x="580.0" y="151.9" width="7.8" height="7.8" fill="#00ffff" fill-opacity="0.84" stroke="#1e3c3c" stroke-width="1"/>
<rect x="590.8" y="138.9" width="7.8" height="7.8" fill="#00ffff" fill-opacity="0.84" stroke="#1e3c3c" stroke-width="1"/>
<rect x="587.6" y="140.6" width="7.8" height="7.8" fill="#00ffff" fill-opacity="0.84" stroke="#1e3c3c" stroke-width="1"/>
<rect x="595.2" y="146.0" width="7.8" height="7.8" fill="#00ffff" fill-opacity="0.84" stroke="#1e3c3c" stroke-width="1"/>
<rect x="590.8" y="160.0" width="7.8" height="7.8" fill="#00ffff" fill-opacity="0.84" stroke="#1e3c3c" stroke-width="1"/>
<rect x="594.1" y="155.7" width="7.8" height="7.8" fill="#00ffff" fill-opacity="0.84" stroke="#1e3c3c" stroke-width="1"/>
<rect x="571.4" y="123.3" width="7.8" height="7.8" fill="#00ffff" fill-opacity="0.84" stroke="#1e3c3c" stroke-width="1"/>
<rect x="601.5" y="201.8" width="7.8" height="7.8" fill="#00ffff" fill-opacity="0.84" stroke="#1e3c3c" stroke-width="1"/>
<rect x="608.6" y="213.6" width="7.8" height="7.8" fill="#00ffff" fill-opacity="0.84" stroke="#1e3c3c" stroke-width="1"/>
<rect x="611.5" y="214.7" width="7.8" height="7.8" fill="#00ffff" fill-opacity="0.84" stroke="#1e3c3c" stroke-width="1"/>
<rect x="519.8" y="189.3" width="7.8" height="7.8" fill="#00ffff" fill-opacity="0.84" stroke="#1e3c3c" stroke-width="1"/>
<rect x="621.5" y="204.9" width="7.8" height="7.8" fill="#00ffff" fill-opacity="0.84" stroke="#1e3c3c" stroke-width="1"/>
<circle cx="535.4" cy="114.2" r="4.25" fill="#ff0d88" fill-opacity="0.88" stroke="#4a0a24" stroke-width="0.8"/>
<circle cx="568.9" cy="115.5" r="4.25" fill="#ff0d88" fill-opacity="0.88" stroke="#4a0a24" stroke-width="0.8"/>
<circle cx="568.4" cy="121.5" r="4.25" fill="#ff0d88" fill-opacity="0.88" stroke="#4a0a24" stroke-width="0.8"/>
<circle cx="590.1" cy="94.7" r="4.25" fill="#ff0d88" fill-opacity="0.88" stroke="#4a0a24" stroke-width="0.8"/>
<circle cx="571.4" cy="102.8" r="4.25" fill="#ff0d88" fill-opacity="0.88" stroke="#4a0a24" stroke-width="0.8"/>
<circle cx="585.7" cy="104.5" r="4.25" fill="#ff0d88" fill-opacity="0.88" stroke="#4a0a24" stroke-width="0.8"/>
<circle cx="577.8" cy="110.4" r="4.25" fill="#ff0d88" fill-opacity="0.88" stroke="#4a0a24" stroke-width="0.8"/>
<circle cx="590.8" cy="117.4" r="4.25" fill="#ff0d88" fill-opacity="0.88" stroke="#4a0a24" stroke-width="0.8"/>
<circle cx="596.8" cy="115.8" r="4.25" fill="#ff0d88" fill-opacity="0.88" stroke="#4a0a24" stroke-width="0.8"/>
<circle cx="607.0" cy="115.3" r="4.25" fill="#ff0d88" fill-opacity="0.88" stroke="#4a0a24" stroke-width="0.8"/>
<circle cx="589.5" cy="125.0" r="4.25" fill="#ff0d88" fill-opacity="0.88" stroke="#4a0a24" stroke-width="0.8"/>
<circle cx="601.6" cy="121.8" r="4.25" fill="#ff0d88" fill-opacity="0.88" stroke="#4a0a24" stroke-width="0.8"/>
<circle cx="606.0" cy="125.5" r="4.25" fill="#ff0d88" fill-opacity="0.88" stroke="#4a0a24" stroke-width="0.8"/>
<circle cx="616.5" cy="123.1" r="4.25" fill="#ff0d88" fill-opacity="0.88" stroke="#4a0a24" stroke-width="0.8"/>
<circle cx="590.1" cy="133.9" r="4.25" fill="#ff0d88" fill-opacity="0.88" stroke="#4a0a24" stroke-width="0.8"/>
<circle cx="600.5" cy="130.4" r="4.25" fill="#ff0d88" fill-opacity="0.88" stroke="#4a0a24" stroke-width="0.8"/>
<circle cx="607.6" cy="136.9" r="4.25" fill="#ff0d88" fill-opacity="0.88" stroke="#4a0a24" stroke-width="0.8"/>
<circle cx="614.9" cy="137.4" r="4.25" fill="#ff0d88" fill-opacity="0.88" stroke="#4a0a24" stroke-width="0.8"/>
<circle cx="609.3" cy="125.0" r="4.25" fill="#ff0d88" fill-opacity="0.88" stroke="#4a0a24" stroke-width="0.8"/>
<circle cx="623.9" cy="136.9" r="4.25" fill="#ff0d88" fill-opacity="0.88" stroke="#4a0a24" stroke-width="0.8"/>
<circle cx="629.9" cy="144.5" r="4.25" fill="#ff0d88" fill-opacity="0.88" stroke="#4a0a24" stroke-width="0.8"/>
<circle cx="638.5" cy="147.7" r="4.25" fill="#ff0d88" fill-opacity="0.88" stroke="#4a0a24" stroke-width="0.8"/>
<circle cx="633.0" cy="152.6" r="4.25" fill="#ff0d88" fill-opacity="0.88" stroke="#4a0a24" stroke-width="0.8"/>
<circle cx="625.5" cy="154.2" r="4.25" fill="#ff0d88" fill-opacity="0.88" stroke="#4a0a24" stroke-width="0.8"/>
<circle cx="613.8" cy="151.8" r="4.25" fill="#ff0d88" fill-opacity="0.88" stroke="#4a0a24" stroke-width="0.8"/>
<circle cx="619.5" cy="156.7" r="4.25" fill="#ff0d88" fill-opacity="0.88" stroke="#4a0a24" stroke-width="0.8"/>
<circle cx="640.7" cy="158.0" r="4.25" fill="#ff0d88" fill-opacity="0.88" stroke="#4a0a24" stroke-width="0.8"/>
<circle cx="607.2" cy="146.1" r="4.25" fill="#ff0d88" fill-opacity="0.88" stroke="#4a0a24" stroke-width="0.8"/>
<circle cx="602.5" cy="153.7" r="4.25" fill="#ff0d88" fill-opacity="0.88" stroke="#4a0a24" stroke-width="0.8"/>
<circle cx="606.9" cy="160.8" r="4.25" fill="#ff0d88" fill-opacity="0.88" stroke="#4a0a24" stroke-width="0.8"/>
<circle cx="626.4" cy="156.5" r="4.25" fill="#ff0d88" fill-opacity="0.88" stroke="#4a0a24" stroke-width="0.8"/>
<circle cx="638.2" cy="155.4" r="4.25" fill="#ff0d88" fill-opacity="0.88" stroke="#4a0a24" stroke-width="0.8"/>
<circle cx="617.2" cy="164.1" r="4.25" fill="#ff0d88" fill-opacity="0.88" stroke="#4a0a24" stroke-width="0.8"/>
<circle cx="626.4" cy="164.1" r="4.25" fill="#ff0d88" fill-opacity="0.88" stroke="#4a0a24" stroke-width="0.8"/>
<circle cx="636.6" cy="161.9" r="4.25" fill="#ff0d88" fill-opacity="0.88" stroke="#4a0a24" stroke-width="0.8"/>
<circle cx="642.6" cy="164.1" r="4.25" fill="#ff0d88" fill-opacity="0.88" stroke="#4a0a24" stroke-width="0.8"/>
<circle cx="614.5" cy="170.5" r="4.25" fill="#ff0d88" fill-opacity="0.88" stroke="#4a0a24" stroke-width="0.8"/>
<circle cx="621.5" cy="167.8" r="4.25" fill="#ff0d88" fill-opacity="0.88" stroke="#4a0a24" stroke-width="0.8"/>
<circle cx="630.7" cy="172.7" r="4.25" fill="#ff0d88" fill-opacity="0.88" stroke="#4a0a24" stroke-width="0.8"/>
<circle cx="635.0" cy="177.0" r="4.25" fill="#ff0d88" fill-opacity="0.88" stroke="#4a0a24" stroke-width="0.8"/>
<circle cx="604.0" cy="174.8" r="4.25" fill="#ff0d88" fill-opacity="0.88" stroke="#4a0a24" stroke-width="0.8"/>
<circle cx="609.1" cy="179.2" r="4.25" fill="#ff0d88" fill-opacity="0.88" stroke="#4a0a24" stroke-width="0.8"/>
<circle cx="612.6" cy="186.4" r="4.25" fill="#ff0d88" fill-opacity="0.88" stroke="#4a0a24" stroke-width="0.8"/>
<circle cx="627.2" cy="185.3" r="4.25" fill="#ff0d88" fill-opacity="0.88" stroke="#4a0a24" stroke-width="0.8"/>
<circle cx="631.6" cy="188.6" r="4.25" fill="#ff0d88" fill-opacity="0.88" stroke="#4a0a24" stroke-width="0.8"/>
<circle cx="637.5" cy="195.6" r="4.25" fill="#ff0d88" fill-opacity="0.88" stroke="#4a0a24" stroke-width="0.8"/>
<circle cx="645.6" cy="192.9" r="4.25" fill="#ff0d88" fill-opacity="0.88" stroke="#4a0a24" stroke-width="0.8"/>
<circle cx="634.2" cy="200.8" r="4.25" fill="#ff0d88" fill-opacity="0.88" stroke="#4a0a24" stroke-width="0.8"/>
<circle cx="582.8" cy="152.6" r="4.25" fill="#ff0d88" fill-opacity="0.88" stroke="#4a0a24" stroke-width="0.8"/>
<circle cx="599.1" cy="143.9" r="4.25" fill="#ff0d88" fill-opacity="0.88" stroke="#4a0a24" stroke-width="0.8"/>
<circle cx="600.1" cy="128.2" r="4.25" fill="#ff0d88" fill-opacity="0.88" stroke="#4a0a24" stroke-width="0.8"/>
<circle cx="623.2" cy="215.8" r="4.25" fill="#ff0d88" fill-opacity="0.88" stroke="#4a0a24" stroke-width="0.8"/>
<circle cx="634.6" cy="226.6" r="4.25" fill="#ff0d88" fill-opacity="0.88" stroke="#4a0a24" stroke-width="0.8"/>
<circle cx="603.6" cy="121.2" r="4.25" fill="#ff0d88" fill-opacity="0.88" stroke="#4a0a24" stroke-width="0.8"/>
<circle cx="605.8" cy="125.6" r="4.25" fill="#ff0d88" fill-opacity="0.88" stroke="#4a0a24" stroke-width="0.8"/>
<circle cx="617.2" cy="123.6" r="4.25" fill="#ff0d88" fill-opacity="0.88" stroke="#4a0a24" stroke-width="0.8"/>
<circle cx="600.8" cy="131.0" r="4.25" fill="#ff0d88" fill-opacity="0.88" stroke="#4a0a24" stroke-width="0.8"/>
<circle cx="609.8" cy="136.9" r="4.25" fill="#ff0d88" fill-opacity="0.88" stroke="#4a0a24" stroke-width="0.8"/>
<circle cx="614.6" cy="138.5" r="4.25" fill="#ff0d88" fill-opacity="0.88" stroke="#4a0a24" stroke-width="0.8"/>
<circle cx="608.0" cy="124.0" r="4.25" fill="#ff0d88" fill-opacity="0.88" stroke="#4a0a24" stroke-width="0.8"/>
<circle cx="626.3" cy="137.0" r="4.25" fill="#ff0d88" fill-opacity="0.88" stroke="#4a0a24" stroke-width="0.8"/>
<circle cx="630.1" cy="142.1" r="4.25" fill="#ff0d88" fill-opacity="0.88" stroke="#4a0a24" stroke-width="0.8"/>
<circle cx="638.1" cy="148.1" r="4.25" fill="#ff0d88" fill-opacity="0.88" stroke="#4a0a24" stroke-width="0.8"/>
<circle cx="630.6" cy="153.2" r="4.25" fill="#ff0d88" fill-opacity="0.88" stroke="#4a0a24" stroke-width="0.8"/>
<circle cx="626.2" cy="152.0" r="4.25" fill="#ff0d88" fill-opacity="0.88" stroke="#4a0a24" stroke-width="0.8"/>
<circle cx="614.4" cy="151.6" r="4.25" fill="#ff0d88" fill-opacity="0.88" stroke="#4a0a24" stroke-width="0.8"/>
<circle cx="620.4" cy="156.0" r="4.25" fill="#ff0d88" fill-opacity="0.88" stroke="#4a0a24" stroke-width="0.8"/>
<circle cx="641.7" cy="159.2" r="4.25" fill="#ff0d88" fill-opacity="0.88" stroke="#4a0a24" stroke-width="0.8"/>
<circle cx="604.8" cy="143.9" r="4.25" fill="#ff0d88" fill-opacity="0.88" stroke="#4a0a24" stroke-width="0.8"/>
<circle cx="603.4" cy="156.0" r="4.25" fill="#ff0d88" fill-opacity="0.88" stroke="#4a0a24" stroke-width="0.8"/>
<circle cx="605.7" cy="160.6" r="4.25" fill="#ff0d88" fill-opacity="0.88" stroke="#4a0a24" stroke-width="0.8"/>
<circle cx="626.9" cy="155.6" r="4.25" fill="#ff0d88" fill-opacity="0.88" stroke="#4a0a24" stroke-width="0.8"/>
<circle cx="637.5" cy="154.5" r="4.25" fill="#ff0d88" fill-opacity="0.88" stroke="#4a0a24" stroke-width="0.8"/>
<circle cx="616.5" cy="164.6" r="4.25" fill="#ff0d88" fill-opacity="0.88" stroke="#4a0a24" stroke-width="0.8"/>
<circle cx="625.4" cy="163.5" r="4.25" fill="#ff0d88" fill-opacity="0.88" stroke="#4a0a24" stroke-width="0.8"/>
<circle cx="638.0" cy="159.5" r="4.25" fill="#ff0d88" fill-opacity="0.88" stroke="#4a0a24" stroke-width="0.8"/>
<circle cx="642.9" cy="165.3" r="4.25" fill="#ff0d88" fill-opacity="0.88" stroke="#4a0a24" stroke-width="0.8"/>
<circle cx="613.6" cy="169.1" r="4.25" fill="#ff0d88" fill-opacity="0.88" stroke="#4a0a24" stroke-width="0.8"/>
<circle cx="623.0" cy="166.5" r="4.25" fill="#ff0d88" fill-opacity="0.88" stroke="#4a0a24" stroke-width="0.8"/>
<circle cx="629.1" cy="172.4" r="4.25" fill="#ff0d88" fill-opacity="0.88" stroke="#4a0a24" stroke-width="0.8"/>
<circle cx="636.0" cy="175.0" r="4.25" fill="#ff0d88" fill-opacity="0.88" stroke="#4a0a24" stroke-width="0.8"/>
<circle cx="603.1" cy="174.0" r="4.25" fill="#ff0d88" fill-opacity="0.88" stroke="#4a0a24" stroke-width="0.8"/>
<circle cx="610.8" cy="178.9" r="4.25" fill="#ff0d88" fill-opacity="0.88" stroke="#4a0a24" stroke-width="0.8"/>
<circle cx="614.4" cy="184.7" r="4.25" fill="#ff0d88" fill-opacity="0.88" stroke="#4a0a24" stroke-width="0.8"/>
<circle cx="626.4" cy="186.1" r="4.25" fill="#ff0d88" fill-opacity="0.88" stroke="#4a0a24" stroke-width="0.8"/>
<circle cx="633.5" cy="188.4" r="4.25" fill="#ff0d88" fill-opacity="0.88" stroke="#4a0a24" stroke-width="0.8"/>
<circle cx="636.1" cy="193.7" r="4.25" fill="#ff0d88" fill-opacity="0.88" stroke="#4a0a24" stroke-width="0.8"/>
<circle cx="645.7" cy="191.4" r="4.25" fill="#ff0d88" fill-opacity="0.88" stroke="#4a0a24" stroke-width="0.8"/>
<circle cx="601.6" cy="129.9" r="4.25" fill="#ff0d88" fill-opacity="0.88" stroke="#4a0a24" stroke-width="0.8"/>
<path d="M411.0 99.2 L412.0 99.2 L413.0 99.1 L414.0 99.1 L415.0 99.1 L416.0 99.1 L417.0 99.1 L418.0 99.1 L419.0 99.1 L420.0 99.1 L421.0 99.1 L422.0 99.1 L423.0 99.1 L424.0 99.1 L425.0 99.1 L426.0 99.1 L427.0 99.1 L428.0 99.1 L429.0 99.1 L430.0 99.1 L431.0 99.1 L432.0 99.1 L433.0 99.1 L434.0 99.1 L435.0 99.0 L436.0 99.0 L437.0 99.0 L438.0 99.0 L439.0 99.0 L440.0 99.0 L441.0 99.0 L442.0 99.0 L443.0 99.0 L444.0 99.0 L445.0 99.0 L446.0 99.0 L447.0 99.0 L448.0 99.0 L449.0 99.0 L450.0 99.0 L451.0 99.0 L452.0 99.0 L453.0 99.0 L454.0 99.0 L455.0 99.0 L456.0 99.0 L457.0 99.0 L458.0 99.0 L459.0 99.0 L460.0 99.0 L461.0 99.0 L462.0 99.0 L463.0 99.0 L464.0 99.0 L465.0 99.0 L466.0 99.0 L467.0 99.0 L468.0 99.0 L469.0 99.0 L470.0 99.0 L471.0 99.0 L472.0 99.0 L473.0 99.0 L474.0 99.0 L475.0 99.0 L476.0 99.0 L477.0 99.0 L478.0 99.0 L479.0 99.0 L480.0 99.0 L481.0 99.0 L482.0 99.0 L483.0 99.0 L484.0 99.0 L485.0 99.0 L486.0 99.0 L487.0 99.0 L488.0 99.0 L489.0 99.0 L490.0 99.0 L491.0 99.1 L492.0 99.1 L493.0 99.1 L494.0 99.1 L495.0 99.1 L496.0 99.1 L497.0 99.1 L498.0 99.1 L499.0 99.2 L500.0 99.2 L501.0 99.2 L502.0 99.2 L503.0 99.2 L504.0 99.3 L505.0 99.3 L506.0 99.3 L507.0 99.3 L508.0 99.4 L509.0 99.4 L510.0 99.4 L511.0 99.5 L512.0 99.5 L513.0 99.6 L514.0 99.6 L515.0 99.7 L516.0 99.7 L517.0 99.8 L518.0 99.9 L519.0 99.9 L520.0 100.0 L521.0 100.1 L522.0 100.2 L523.0 100.3 L524.0 100.4 L525.0 100.5 L526.0 100.6 L527.0 100.8 L528.0 100.9 L529.0 101.0 L530.0 101.2 L531.0 101.4 L532.0 101.6 L533.0 101.8 L534.0 102.0 L535.0 102.2 L536.0 102.4 L537.0 102.7 L538.0 103.0 L539.0 103.3 L540.0 103.6 L541.0 103.9 L542.0 104.3 L543.0 104.6 L544.0 105.0 L545.0 105.4 L546.0 105.9 L547.0 106.4 L548.0 106.9 L549.0 107.4 L550.0 107.9 L551.0 108.5 L552.0 109.1 L553.0 109.7 L554.0 110.4 L555.0 111.1 L556.0 111.8 L557.0 112.5 L558.0 113.3 L559.0 114.1 L560.0 115.0 L561.0 115.8 L562.0 116.7 L563.0 117.6 L564.0 118.6 L565.0 119.6 L566.0 120.6 L567.0 121.6 L568.0 122.7 L569.0 123.7 L570.0 124.8 L571.0 126.0 L572.0 127.1 L573.0 128.3 L574.0 129.5 L575.0 130.7 L576.0 131.9 L577.0 133.1 L578.0 134.4 L579.0 135.7 L580.0 137.0 L581.0 138.3 L582.0 139.6 L583.0 140.9 L584.0 142.3 L585.0 143.6 L586.0 145.0 L587.0 146.4 L588.0 147.8 L589.0 149.2 L590.0 150.6 L591.0 152.0 L592.0 153.4 L593.0 154.8 L594.0 156.2 L595.0 157.7 L596.0 159.1 L597.0 160.6 L598.0 162.0 L599.0 163.5 L600.0 164.9 L601.0 166.4 L602.0 167.9 L603.0 169.3 L604.0 170.8 L605.0 172.3 L606.0 173.8 L607.0 175.2 L608.0 176.7 L609.0 178.2 L610.0 179.7 L611.0 181.2 L612.0 182.7 L613.0 184.2 L614.0 185.7 L615.0 187.2 L616.0 188.6 L617.0 190.1 L618.0 191.6 L619.0 193.1 L620.0 194.6 L621.0 196.1 L622.0 197.6 L623.0 199.1 L624.0 200.6 L625.0 202.1 L626.0 203.7 L627.0 205.2 L628.0 206.7 L629.0 208.2 L630.0 209.7 L631.0 211.2 L632.0 212.7 L633.0 214.2 L634.0 215.7 L635.0 217.2 L636.0 218.7 L637.0 220.2 L638.0 221.7 L639.0 223.2 L640.0 224.7 L641.0 226.2 L642.0 227.8 L643.0 229.3 L644.0 230.8 L645.0 232.3 L646.0 233.8 L647.0 235.3 L648.0 236.8 L649.0 238.3 L650.0 239.8 L651.0 241.3 L652.0 242.8" fill="none" stroke="#363636" stroke-width="2.0"/>
<path d="M411.0 86.7 L412.0 86.7 L413.0 86.7 L414.0 86.7 L415.0 86.7 L416.0 86.7 L417.0 86.7 L418.0 86.7 L419.0 86.7 L420.0 86.7 L421.0 86.7 L422.0 86.7 L423.0 86.7 L424.0 86.7 L425.0 86.7 L426.0 86.7 L427.0 86.7 L428.0 86.7 L429.0 86.7 L430.0 86.7 L431.0 86.7 L432.0 86.7 L433.0 86.7 L434.0 86.7 L435.0 86.7 L436.0 86.7 L437.0 86.7 L438.0 86.7 L439.0 86.7 L440.0 86.7 L441.0 86.7 L442.0 86.7 L443.0 86.7 L444.0 86.7 L445.0 86.7 L446.0 86.7 L447.0 86.7 L448.0 86.7 L449.0 86.7 L450.0 86.7 L451.0 86.7 L452.0 86.7 L453.0 86.7 L454.0 86.7 L455.0 86.7 L456.0 86.7 L457.0 86.7 L458.0 86.7 L459.0 86.7 L460.0 86.7 L461.0 86.7 L462.0 86.7 L463.0 86.7 L464.0 86.7 L465.0 86.7 L466.0 86.7 L467.0 86.7 L468.0 86.7 L469.0 86.7 L470.0 86.7 L471.0 86.7 L472.0 86.7 L473.0 86.7 L474.0 86.7 L475.0 86.7 L476.0 86.7 L477.0 86.7 L478.0 86.7 L479.0 86.7 L480.0 86.7 L481.0 86.7 L482.0 86.7 L483.0 86.7 L484.0 86.7 L485.0 86.7 L486.0 86.8 L487.0 86.8 L488.0 86.8 L489.0 86.8 L490.0 86.8 L491.0 86.8 L492.0 86.8 L493.0 86.8 L494.0 86.8 L495.0 86.8 L496.0 86.8 L497.0 86.8 L498.0 86.9 L499.0 86.9 L500.0 86.9 L501.0 86.9 L502.0 86.9 L503.0 86.9 L504.0 87.0 L505.0 87.0 L506.0 87.0 L507.0 87.0 L508.0 87.1 L509.0 87.1 L510.0 87.1 L511.0 87.2 L512.0 87.2 L513.0 87.3 L514.0 87.3 L515.0 87.4 L516.0 87.4 L517.0 87.5 L518.0 87.6 L519.0 87.6 L520.0 87.7 L521.0 87.8 L522.0 87.9 L523.0 88.0 L524.0 88.1 L525.0 88.2 L526.0 88.3 L527.0 88.4 L528.0 88.6 L529.0 88.7 L530.0 88.9 L531.0 89.1 L532.0 89.3 L533.0 89.5 L534.0 89.7 L535.0 89.9 L536.0 90.1 L537.0 90.4 L538.0 90.7 L539.0 91.0 L540.0 91.3 L541.0 91.6 L542.0 92.0 L543.0 92.3 L544.0 92.7 L545.0 93.2 L546.0 93.6 L547.0 94.1 L548.0 94.6 L549.0 95.1 L550.0 95.7 L551.0 96.2 L552.0 96.8 L553.0 97.5 L554.0 98.2 L555.0 98.8 L556.0 99.6 L557.0 100.3 L558.0 101.1 L559.0 101.9 L560.0 102.8 L561.0 103.7 L562.0 104.6 L563.0 105.5 L564.0 106.5 L565.0 107.4 L566.0 108.5 L567.0 109.5 L568.0 110.6 L569.0 111.7 L570.0 112.8 L571.0 113.9 L572.0 115.1 L573.0 116.3 L574.0 117.5 L575.0 118.7 L576.0 119.9 L577.0 121.2 L578.0 122.5 L579.0 123.8 L580.0 125.1 L581.0 126.4 L582.0 127.7 L583.0 129.1 L584.0 130.5 L585.0 131.8 L586.0 133.2 L587.0 134.6 L588.0 136.0 L589.0 137.4 L590.0 138.8 L591.0 140.3 L592.0 141.7 L593.0 143.1 L594.0 144.6 L595.0 146.0 L596.0 147.5 L597.0 149.0 L598.0 150.4 L599.0 151.9 L600.0 153.4 L601.0 154.9 L602.0 156.4 L603.0 157.8 L604.0 159.3 L605.0 160.8 L606.0 162.3 L607.0 163.8 L608.0 165.3 L609.0 166.8 L610.0 168.3 L611.0 169.8 L612.0 171.4 L613.0 172.9 L614.0 174.4 L615.0 175.9 L616.0 177.4 L617.0 178.9 L618.0 180.4 L619.0 182.0 L620.0 183.5 L621.0 185.0 L622.0 186.5 L623.0 188.0 L624.0 189.6 L625.0 191.1 L626.0 192.6 L627.0 194.1 L628.0 195.7 L629.0 197.2 L630.0 198.7 L631.0 200.2 L632.0 201.8 L633.0 203.3 L634.0 204.8 L635.0 206.4 L636.0 207.9 L637.0 209.4 L638.0 210.9 L639.0 212.5 L640.0 214.0 L641.0 215.5 L642.0 217.1 L643.0 218.6 L644.0 220.1 L645.0 221.7 L646.0 223.2 L647.0 224.7 L648.0 226.3 L649.0 227.8 L650.0 229.3 L651.0 230.8 L652.0 232.4 L653.0 233.9 L654.0 235.4 L655.0 237.0 L656.0 238.5 L657.0 240.0 L658.0 241.6 L659.0 243.1" fill="none" stroke="#363636" stroke-width="2.0" stroke-dasharray="11.4 4.4 1.7 4.4"/>
</g>
<rect x="84" y="360.90" width="256.50" height="78.60" fill="#c8c8c8"/>
<rect x="84" y="360.90" width="256.50" height="78.60" fill="url(#dots3)"/>
<g clip-path="url(#clip3)">
<rect x="145.4" y="318.3" width="7.8" height="7.8" fill="#00ffff" fill-opacity="0.84" stroke="#1e3c3c" stroke-width="1"/>
<rect x="164.5" y="303.7" width="7.8" height="7.8" fill="#00ffff" fill-opacity="0.84" stroke="#1e3c3c" stroke-width="1"/>
<rect x="192.0" y="312.4" width="7.8" height="7.8" fill="#00ffff" fill-opacity="0.84" stroke="#1e3c3c" stroke-width="1"/>
<rect x="200.3" y="314.7" width="7.8" height="7.8" fill="#00ffff" fill-opacity="0.84" stroke="#1e3c3c" stroke-width="1"/>
<rect x="202.0" y="307.6" width="7.8" height="7.8" fill="#00ffff" fill-opacity="0.84" stroke="#1e3c3c" stroke-width="1"/>
<rect x="205.0" y="317.7" width="7.8" height="7.8" fill="#00ffff" fill-opacity="0.84" stroke="#1e3c3c" stroke-width="1"/>
<rect x="204.4" y="329.4" width="7.8" height="7.8" fill="#00ffff" fill-opacity="0.84" stroke="#1e3c3c" stroke-width="1"/>
<rect x="214.4" y="322.4" width="7.8" height="7.8" fill="#00ffff" fill-opacity="0.84" stroke="#1e3c3c" stroke-width="1"/>
<rect x="215.0" y="305.3" width="7.8" height="7.8" fill="#00ffff" fill-opacity="0.84" stroke="#1e3c3c" stroke-width="1"/>
<rect x="219.1" y="308.2" width="7.8" height="7.8" fill="#00ffff" fill-opacity="0.84" stroke="#1e3c3c" stroke-width="1"/>
<rect x="226.2" y="305.9" width="7.8" height="7.8" fill="#00ffff" fill-opacity="0.84" stroke="#1e3c3c" stroke-width="1"/>
<rect x="228.6" y="312.4" width="7.8" height="7.8" fill="#00ffff" fill-opacity="0.84" stroke="#1e3c3c" stroke-width="1"/>
<rect x="222.7" y="315.3" width="7.8" height="7.8" fill="#00ffff" fill-opacity="0.84" stroke="#1e3c3c" stroke-width="1"/>
<rect x="232.7" y="289.9" width="7.8" height="7.8" fill="#00ffff" fill-opacity="0.84" stroke="#1e3c3c" stroke-width="1"/>
<rect x="232.1" y="323.6" width="7.8" height="7.8" fill="#00ffff" fill-opacity="0.84" stroke="#1e3c3c" stroke-width="1"/>
<rect x="197.7" y="343.1" width="7.8" height="7.8" fill="#00ffff" fill-opacity="0.84" stroke="#1e3c3c" stroke-width="1"/>
<rect x="201.1" y="344.6" width="7.8" height="7.8" fill="#00ffff" fill-opacity="0.84" stroke="#1e3c3c" stroke-width="1"/>
<rect x="248.8" y="315.3" width="7.8" height="7.8" fill="#00ffff" fill-opacity="0.84" stroke="#1e3c3c" stroke-width="1"/>
<rect x="246.4" y="323.6" width="7.8" height="7.8" fill="#00ffff" fill-opacity="0.84" stroke="#1e3c3c" stroke-width="1"/>
<rect x="238.2" y="323.6" width="7.8" height="7.8" fill="#00ffff" fill-opacity="0.84" stroke="#1e3c3c" stroke-width="1"/>
<rect x="245.8" y="329.4" width="7.8" height="7.8" fill="#00ffff" fill-opacity="0.84" stroke="#1e3c3c" stroke-width="1"/>
<rect x="252.6" y="340.6" width="7.8" height="7.8" fill="#00ffff" fill-opacity="0.84" stroke="#1e3c3c" stroke-width="1"/>
<rect x="242.9" y="340.1" width="7.8" height="7.8" fill="#00ffff" fill-opacity="0.84" stroke="#1e3c3c" stroke-width="1"/>
<rect x="270.0" y="340.1" width="7.8" height="7.8" fill="#00ffff" fill-opacity="0.84" stroke="#1e3c3c" stroke-width="1"/>
<rect x="244.7" y="331.7" width="7.8" height="7.8" fill="#00ffff" fill-opacity="0.84" stroke="#1e3c3c" stroke-width="1"/>
<rect x="241.1" y="344.1" width="7.8" height="7.8" fill="#00ffff" fill-opacity="0.84" stroke="#1e3c3c" stroke-width="1"/>
<rect x="237.0" y="352.3" width="7.8" height="7.8" fill="#00ffff" fill-opacity="0.84" stroke="#1e3c3c" stroke-width="1"/>
<rect x="242.3" y="357.6" width="7.8" height="7.8" fill="#00ffff" fill-opacity="0.84" stroke="#1e3c3c" stroke-width="1"/>
<rect x="258.8" y="347.0" width="7.8" height="7.8" fill="#00ffff" fill-opacity="0.84" stroke="#1e3c3c" stroke-width="1"/>
<rect x="275.9" y="342.9" width="7.8" height="7.8" fill="#00ffff" fill-opacity="0.84" stroke="#1e3c3c" stroke-width="1"/>
<rect x="281.5" y="345.1" width="7.8" height="7.8" fill="#00ffff" fill-opacity="0.84" stroke="#1e3c3c" stroke-width="1"/>
<rect x="288.0" y="355.2" width="7.8" height="7.8" fill="#00ffff" fill-opacity="0.84" stroke="#1e3c3c" stroke-width="1"/>
<rect x="260.6" y="370.0" width="7.8" height="7.8" fill="#00ffff" fill-opacity="0.84" stroke="#1e3c3c" stroke-width="1"/>
<rect x="265.5" y="377.8" width="7.8" height="7.8" fill="#00ffff" fill-opacity="0.84" stroke="#1e3c3c" stroke-width="1"/>
<rect x="271.2" y="380.6" width="7.8" height="7.8" fill="#00ffff" fill-opacity="0.84" stroke="#1e3c3c" stroke-width="1"/>
<rect x="279.4" y="366.5" width="7.8" height="7.8" fill="#00ffff" fill-opacity="0.84" stroke="#1e3c3c" stroke-width="1"/>
<rect x="279.9" y="376.6" width="7.8" height="7.8" fill="#00ffff" fill-opacity="0.84" stroke="#1e3c3c" stroke-width="1"/>
<rect x="263.1" y="388.4" width="7.8" height="7.8" fill="#00ffff" fill-opacity="0.84" stroke="#1e3c3c" stroke-width="1"/>
<rect x="302.3" y="341.4" width="7.8" height="7.8" fill="#00ffff" fill-opacity="0.84" stroke="#1e3c3c" stroke-width="1"/>
<rect x="305.3" y="373.3" width="7.8" height="7.8" fill="#00ffff" fill-opacity="0.84" stroke="#1e3c3c" stroke-width="1"/>
<rect x="249.6" y="393.8" width="7.8" height="7.8" fill="#00ffff" fill-opacity="0.84" stroke="#1e3c3c" stroke-width="1"/>
<rect x="267.9" y="400.9" width="7.8" height="7.8" fill="#00ffff" fill-opacity="0.84" stroke="#1e3c3c" stroke-width="1"/>
<rect x="286.8" y="402.0" width="7.8" height="7.8" fill="#00ffff" fill-opacity="0.84" stroke="#1e3c3c" stroke-width="1"/>
<circle cx="208.3" cy="310.0" r="4.25" fill="#ff0d88" fill-opacity="0.88" stroke="#4a0a24" stroke-width="0.8"/>
<circle cx="239.6" cy="322.1" r="4.25" fill="#ff0d88" fill-opacity="0.88" stroke="#4a0a24" stroke-width="0.8"/>
<circle cx="263.3" cy="296.2" r="4.25" fill="#ff0d88" fill-opacity="0.88" stroke="#4a0a24" stroke-width="0.8"/>
<circle cx="244.4" cy="302.7" r="4.25" fill="#ff0d88" fill-opacity="0.88" stroke="#4a0a24" stroke-width="0.8"/>
<circle cx="258.6" cy="303.9" r="4.25" fill="#ff0d88" fill-opacity="0.88" stroke="#4a0a24" stroke-width="0.8"/>
<circle cx="250.9" cy="310.4" r="4.25" fill="#ff0d88" fill-opacity="0.88" stroke="#4a0a24" stroke-width="0.8"/>
<circle cx="243.8" cy="313.3" r="4.25" fill="#ff0d88" fill-opacity="0.88" stroke="#4a0a24" stroke-width="0.8"/>
<circle cx="245.0" cy="321.6" r="4.25" fill="#ff0d88" fill-opacity="0.88" stroke="#4a0a24" stroke-width="0.8"/>
<circle cx="269.2" cy="316.8" r="4.25" fill="#ff0d88" fill-opacity="0.88" stroke="#4a0a24" stroke-width="0.8"/>
<circle cx="263.9" cy="322.1" r="4.25" fill="#ff0d88" fill-opacity="0.88" stroke="#4a0a24" stroke-width="0.8"/>
<circle cx="276.3" cy="321.6" r="4.25" fill="#ff0d88" fill-opacity="0.88" stroke="#4a0a24" stroke-width="0.8"/>
<circle cx="279.8" cy="321.6" r="4.25" fill="#ff0d88" fill-opacity="0.88" stroke="#4a0a24" stroke-width="0.8"/>
<circle cx="270.4" cy="326.9" r="4.25" fill="#ff0d88" fill-opacity="0.88" stroke="#4a0a24" stroke-width="0.8"/>
<circle cx="261.5" cy="329.8" r="4.25" fill="#ff0d88" fill-opacity="0.88" stroke="#4a0a24" stroke-width="0.8"/>
<circle cx="273.9" cy="338.1" r="4.25" fill="#ff0d88" fill-opacity="0.88" stroke="#4a0a24" stroke-width="0.8"/>
<circle cx="283.3" cy="334.5" r="4.25" fill="#ff0d88" fill-opacity="0.88" stroke="#4a0a24" stroke-width="0.8"/>
<circle cx="289.2" cy="338.7" r="4.25" fill="#ff0d88" fill-opacity="0.88" stroke="#4a0a24" stroke-width="0.8"/>
<circle cx="281.0" cy="341.6" r="4.25" fill="#ff0d88" fill-opacity="0.88" stroke="#4a0a24" stroke-width="0.8"/>
<circle cx="273.3" cy="353.9" r="4.25" fill="#ff0d88" fill-opacity="0.88" stroke="#4a0a24" stroke-width="0.8"/>
<circle cx="281.0" cy="360.4" r="4.25" fill="#ff0d88" fill-opacity="0.88" stroke="#4a0a24" stroke-width="0.8"/>
<circle cx="287.4" cy="360.2" r="4.25" fill="#ff0d88" fill-opacity="0.88" stroke="#4a0a24" stroke-width="0.8"/>
<circle cx="263.3" cy="369.2" r="4.25" fill="#ff0d88" fill-opacity="0.88" stroke="#4a0a24" stroke-width="0.8"/>
<circle cx="277.5" cy="372.7" r="4.25" fill="#ff0d88" fill-opacity="0.88" stroke="#4a0a24" stroke-width="0.8"/>
<circle cx="275.1" cy="376.3" r="4.25" fill="#ff0d88" fill-opacity="0.88" stroke="#4a0a24" stroke-width="0.8"/>
<circle cx="289.7" cy="377.6" r="4.25" fill="#ff0d88" fill-opacity="0.88" stroke="#4a0a24" stroke-width="0.8"/>
<circle cx="256.2" cy="382.2" r="4.25" fill="#ff0d88" fill-opacity="0.88" stroke="#4a0a24" stroke-width="0.8"/>
<circle cx="272.5" cy="394.9" r="4.25" fill="#ff0d88" fill-opacity="0.88" stroke="#4a0a24" stroke-width="0.8"/>
<circle cx="310.9" cy="361.3" r="4.25" fill="#ff0d88" fill-opacity="0.88" stroke="#4a0a24" stroke-width="0.8"/>
<circle cx="296.2" cy="373.0" r="4.25" fill="#ff0d88" fill-opacity="0.88" stroke="#4a0a24" stroke-width="0.8"/>
<circle cx="302.1" cy="377.2" r="4.25" fill="#ff0d88" fill-opacity="0.88" stroke="#4a0a24" stroke-width="0.8"/>
<circle cx="302.3" cy="387.5" r="4.25" fill="#ff0d88" fill-opacity="0.88" stroke="#4a0a24" stroke-width="0.8"/>
<circle cx="279.5" cy="403.0" r="4.25" fill="#ff0d88" fill-opacity="0.88" stroke="#4a0a24" stroke-width="0.8"/>
<circle cx="284.2" cy="410.1" r="4.25" fill="#ff0d88" fill-opacity="0.88" stroke="#4a0a24" stroke-width="0.8"/>
<circle cx="291.9" cy="416.6" r="4.25" fill="#ff0d88" fill-opacity="0.88" stroke="#4a0a24" stroke-width="0.8"/>
<circle cx="278.9" cy="422.5" r="4.25" fill="#ff0d88" fill-opacity="0.88" stroke="#4a0a24" stroke-width="0.8"/>
<circle cx="299.2" cy="391.9" r="4.25" fill="#ff0d88" fill-opacity="0.88" stroke="#4a0a24" stroke-width="0.8"/>
<circle cx="304.2" cy="400.0" r="4.25" fill="#ff0d88" fill-opacity="0.88" stroke="#4a0a24" stroke-width="0.8"/>
<circle cx="307.8" cy="408.9" r="4.25" fill="#ff0d88" fill-opacity="0.88" stroke="#4a0a24" stroke-width="0.8"/>
<circle cx="305.4" cy="425.4" r="4.25" fill="#ff0d88" fill-opacity="0.88" stroke="#4a0a24" stroke-width="0.8"/>
<circle cx="288.9" cy="380.6" r="4.25" fill="#ff0d88" fill-opacity="0.88" stroke="#4a0a24" stroke-width="0.8"/>
<path d="M84.0 304.7 L85.0 304.7 L86.0 304.7 L87.0 304.7 L88.0 304.6 L89.0 304.6 L90.0 304.6 L91.0 304.6 L92.0 304.6 L93.0 304.6 L94.0 304.6 L95.0 304.6 L96.0 304.6 L97.0 304.6 L98.0 304.6 L99.0 304.6 L100.0 304.6 L101.0 304.5 L102.0 304.5 L103.0 304.5 L104.0 304.5 L105.0 304.5 L106.0 304.5 L107.0 304.5 L108.0 304.5 L109.0 304.5 L110.0 304.5 L111.0 304.5 L112.0 304.5 L113.0 304.5 L114.0 304.5 L115.0 304.5 L116.0 304.5 L117.0 304.5 L118.0 304.5 L119.0 304.5 L120.0 304.5 L121.0 304.5 L122.0 304.5 L123.0 304.5 L124.0 304.5 L125.0 304.5 L126.0 304.5 L127.0 304.5 L128.0 304.5 L129.0 304.5 L130.0 304.5 L131.0 304.5 L132.0 304.5 L133.0 304.5 L134.0 304.5 L135.0 304.5 L136.0 304.5 L137.0 304.5 L138.0 304.5 L139.0 304.5 L140.0 304.5 L141.0 304.5 L142.0 304.5 L143.0 304.5 L144.0 304.5 L145.0 304.5 L146.0 304.5 L147.0 304.5 L148.0 304.5 L149.0 304.5 L150.0 304.5 L151.0 304.5 L152.0 304.5 L153.0 304.5 L154.0 304.5 L155.0 304.5 L156.0 304.5 L157.0 304.5 L158.0 304.5 L159.0 304.5 L160.0 304.6 L161.0 304.6 L162.0 304.6 L163.0 304.6 L164.0 304.6 L165.0 304.6 L166.0 304.6 L167.0 304.6 L168.0 304.6 L169.0 304.6 L170.0 304.6 L171.0 304.6 L172.0 304.6 L173.0 304.6 L174.0 304.6 L175.0 304.6 L176.0 304.6 L177.0 304.7 L178.0 304.7 L179.0 304.7 L180.0 304.7 L181.0 304.7 L182.0 304.7 L183.0 304.7 L184.0 304.8 L185.0 304.8 L186.0 304.8 L187.0 304.8 L188.0 304.9 L189.0 304.9 L190.0 304.9 L191.0 305.0 L192.0 305.1 L193.0 305.1 L194.0 305.2 L195.0 305.3 L196.0 305.4 L197.0 305.5 L198.0 305.6 L199.0 305.8 L200.0 306.0 L201.0 306.2 L202.0 306.4 L203.0 306.7 L204.0 307.0 L205.0 307.3 L206.0 307.7 L207.0 308.1 L208.0 308.6 L209.0 309.1 L210.0 309.6 L211.0 310.2 L212.0 310.9 L213.0 311.6 L214.0 312.3 L215.0 313.1 L216.0 314.0 L217.0 314.8 L218.0 315.7 L219.0 316.7 L220.0 317.6 L221.0 318.6 L222.0 319.7 L223.0 320.7 L224.0 321.8 L225.0 322.8 L226.0 323.9 L227.0 325.0 L228.0 326.1 L229.0 327.2 L230.0 328.4 L231.0 329.5 L232.0 330.6 L233.0 331.8 L234.0 332.9 L235.0 334.1 L236.0 335.2 L237.0 336.4 L238.0 337.6 L239.0 338.7 L240.0 339.9 L241.0 341.0 L242.0 342.2 L243.0 343.4 L244.0 344.5 L245.0 345.7 L246.0 346.9 L247.0 348.1 L248.0 349.2 L249.0 350.4 L250.0 351.6 L251.0 352.7 L252.0 353.9 L253.0 355.1 L254.0 356.2 L255.0 357.4 L256.0 358.6 L257.0 359.7 L258.0 360.9 L259.0 362.1 L260.0 363.2 L261.0 364.4 L262.0 365.6 L263.0 366.7 L264.0 367.9 L265.0 369.1 L266.0 370.2 L267.0 371.4 L268.0 372.6 L269.0 373.7 L270.0 374.9 L271.0 376.1 L272.0 377.2 L273.0 378.4 L274.0 379.6 L275.0 380.7 L276.0 381.9 L277.0 383.1 L278.0 384.2 L279.0 385.4 L280.0 386.6 L281.0 387.7 L282.0 388.9 L283.0 390.0 L284.0 391.2 L285.0 392.4 L286.0 393.5 L287.0 394.7 L288.0 395.8 L289.0 397.0 L290.0 398.2 L291.0 399.3 L292.0 400.5 L293.0 401.6 L294.0 402.8 L295.0 404.0 L296.0 405.1 L297.0 406.3 L298.0 407.4 L299.0 408.6 L300.0 409.7 L301.0 410.9 L302.0 412.1 L303.0 413.2 L304.0 414.4 L305.0 415.5 L306.0 416.7 L307.0 417.8 L308.0 419.0 L309.0 420.1 L310.0 421.3 L311.0 422.4 L312.0 423.6 L313.0 424.7 L314.0 425.9 L315.0 427.0 L316.0 428.2 L317.0 429.3 L318.0 430.5 L319.0 431.6 L320.0 432.8 L321.0 433.9 L322.0 435.1 L323.0 436.2 L324.0 437.4 L325.0 438.5 L326.0 439.7 L327.0 440.8 L328.0 442.0" fill="none" stroke="#363636" stroke-width="2.0"/>
<path d="M84.0 289.6 L85.0 289.6 L86.0 289.6 L87.0 289.6 L88.0 289.6 L89.0 289.6 L90.0 289.6 L91.0 289.6 L92.0 289.6 L93.0 289.6 L94.0 289.6 L95.0 289.6 L96.0 289.6 L97.0 289.6 L98.0 289.6 L99.0 289.6 L100.0 289.6 L101.0 289.6 L102.0 289.6 L103.0 289.6 L104.0 289.6 L105.0 289.6 L106.0 289.6 L107.0 289.6 L108.0 289.6 L109.0 289.6 L110.0 289.6 L111.0 289.6 L112.0 289.6 L113.0 289.6 L114.0 289.6 L115.0 289.6 L116.0 289.6 L117.0 289.7 L118.0 289.7 L119.0 289.7 L120.0 289.7 L121.0 289.7 L122.0 289.7 L123.0 289.7 L124.0 289.7 L125.0 289.7 L126.0 289.7 L127.0 289.7 L128.0 289.7 L129.0 289.7 L130.0 289.7 L131.0 289.7 L132.0 289.7 L133.0 289.7 L134.0 289.7 L135.0 289.7 L136.0 289.7 L137.0 289.7 L138.0 289.7 L139.0 289.7 L140.0 289.7 L141.0 289.7 L142.0 289.8 L143.0 289.8 L144.0 289.8 L145.0 289.8 L146.0 289.8 L147.0 289.8 L148.0 289.8 L149.0 289.8 L150.0 289.8 L151.0 289.8 L152.0 289.8 L153.0 289.8 L154.0 289.8 L155.0 289.8 L156.0 289.9 L157.0 289.9 L158.0 289.9 L159.0 289.9 L160.0 289.9 L161.0 290.0 L162.0 290.0 L163.0 290.0 L164.0 290.0 L165.0 290.1 L166.0 290.1 L167.0 290.1 L168.0 290.1 L169.0 290.2 L170.0 290.2 L171.0 290.2 L172.0 290.3 L173.0 290.3 L174.0 290.3 L175.0 290.4 L176.0 290.4 L177.0 290.5 L178.0 290.5 L179.0 290.6 L180.0 290.6 L181.0 290.7 L182.0 290.7 L183.0 290.8 L184.0 290.9 L185.0 290.9 L186.0 291.0 L187.0 291.1 L188.0 291.3 L189.0 291.4 L190.0 291.5 L191.0 291.6 L192.0 291.8 L193.0 291.9 L194.0 292.0 L195.0 292.2 L196.0 292.4 L197.0 292.6 L198.0 292.8 L199.0 293.0 L200.0 293.3 L201.0 293.5 L202.0 293.8 L203.0 294.1 L204.0 294.4 L205.0 294.7 L206.0 295.1 L207.0 295.5 L208.0 295.9 L209.0 296.3 L210.0 296.8 L211.0 297.3 L212.0 297.8 L213.0 298.4 L214.0 299.0 L215.0 299.6 L216.0 300.3 L217.0 301.0 L218.0 301.8 L219.0 302.6 L220.0 303.4 L221.0 304.3 L222.0 305.2 L223.0 306.2 L224.0 307.3 L225.0 308.5 L226.0 309.7 L227.0 310.8 L228.0 311.9 L229.0 313.0 L230.0 314.0 L231.0 315.0 L232.0 316.0 L233.0 316.9 L234.0 317.9 L235.0 318.9 L236.0 320.0 L237.0 321.1 L238.0 322.4 L239.0 323.7 L240.0 325.1 L241.0 326.5 L242.0 327.9 L243.0 329.3 L244.0 330.7 L245.0 332.1 L246.0 333.6 L247.0 335.0 L248.0 336.4 L249.0 337.7 L250.0 339.1 L251.0 340.4 L252.0 341.7 L253.0 343.0 L254.0 344.3 L255.0 345.6 L256.0 346.9 L257.0 348.2 L258.0 349.4 L259.0 350.7 L260.0 351.9 L261.0 353.1 L262.0 354.3 L263.0 355.4 L264.0 356.5 L265.0 357.6 L266.0 358.6 L267.0 359.7 L268.0 360.7 L269.0 361.8 L270.0 362.8 L271.0 363.9 L272.0 365.0 L273.0 366.2 L274.0 367.3 L275.0 368.4 L276.0 369.6 L277.0 370.7 L278.0 371.8 L279.0 372.8 L280.0 373.9 L281.0 375.0 L282.0 376.0 L283.0 377.1 L284.0 378.2 L285.0 379.2 L286.0 380.3 L287.0 381.4 L288.0 382.5 L289.0 383.6 L290.0 384.6 L291.0 385.7 L292.0 386.9 L293.0 388.0 L294.0 389.2 L295.0 390.4 L296.0 391.7 L297.0 392.9 L298.0 394.2 L299.0 395.5 L300.0 396.8 L301.0 398.1 L302.0 399.5 L303.0 400.8 L304.0 402.1 L305.0 403.4 L306.0 404.7 L307.0 406.0 L308.0 407.3 L309.0 408.5 L310.0 409.7 L311.0 410.9 L312.0 412.1 L313.0 413.2 L314.0 414.3 L315.0 415.4 L316.0 416.5 L317.0 417.5 L318.0 418.6 L319.0 419.6 L320.0 420.7 L321.0 421.7 L322.0 422.7 L323.0 423.8 L324.0 424.8 L325.0 425.8 L326.0 426.9 L327.0 427.9 L328.0 429.0 L329.0 430.0 L330.0 431.1 L331.0 432.2 L332.0 433.3 L333.0 434.3 L334.0 435.4 L335.0 436.5 L336.0 437.6 L337.0 438.7 L338.0 439.7 L339.0 440.8 L340.0 441.9" fill="none" stroke="#363636" stroke-width="2.0" stroke-dasharray="11.4 4.4 1.7 4.4"/>
</g>
<rect x="411" y="360.90" width="256.40" height="78.60" fill="#c8c8c8"/>
<rect x="411" y="360.90" width="256.40" height="78.60" fill="url(#dots4)"/>
<g clip-path="url(#clip4)">
<rect x="491.5" y="311.4" width="7.8" height="7.8" fill="#00ffff" fill-opacity="0.84" stroke="#1e3c3c" stroke-width="1"/>
<rect x="472.7" y="337.8" width="7.8" height="7.8" fill="#00ffff" fill-opacity="0.84" stroke="#1e3c3c" stroke-width="1"/>
<rect x="519.4" y="315.3" width="7.8" height="7.8" fill="#00ffff" fill-opacity="0.84" stroke="#1e3c3c" stroke-width="1"/>
<rect x="529.4" y="317.0" width="7.8" height="7.8" fill="#00ffff" fill-opacity="0.84" stroke="#1e3c3c" stroke-width="1"/>
<rect x="527.6" y="324.1" width="7.8" height="7.8" fill="#00ffff" fill-opacity="0.84" stroke="#1e3c3c" stroke-width="1"/>
<rect x="531.2" y="330.6" width="7.8" height="7.8" fill="#00ffff" fill-opacity="0.84" stroke="#1e3c3c" stroke-width="1"/>
<rect x="541.8" y="312.3" width="7.8" height="7.8" fill="#00ffff" fill-opacity="0.84" stroke="#1e3c3c" stroke-width="1"/>
<rect x="546.5" y="316.5" width="7.8" height="7.8" fill="#00ffff" fill-opacity="0.84" stroke="#1e3c3c" stroke-width="1"/>
<rect x="553.0" y="313.5" width="7.8" height="7.8" fill="#00ffff" fill-opacity="0.84" stroke="#1e3c3c" stroke-width="1"/>
<rect x="555.3" y="325.9" width="7.8" height="7.8" fill="#00ffff" fill-opacity="0.84" stroke="#1e3c3c" stroke-width="1"/>
<rect x="549.4" y="331.8" width="7.8" height="7.8" fill="#00ffff" fill-opacity="0.84" stroke="#1e3c3c" stroke-width="1"/>
<rect x="541.2" y="340.0" width="7.8" height="7.8" fill="#00ffff" fill-opacity="0.84" stroke="#1e3c3c" stroke-width="1"/>
<rect x="559.4" y="343.5" width="7.8" height="7.8" fill="#00ffff" fill-opacity="0.84" stroke="#1e3c3c" stroke-width="1"/>
<rect x="559.6" y="294.0" width="7.8" height="7.8" fill="#00ffff" fill-opacity="0.84" stroke="#1e3c3c" stroke-width="1"/>
<rect x="565.3" y="330.9" width="7.8" height="7.8" fill="#00ffff" fill-opacity="0.84" stroke="#1e3c3c" stroke-width="1"/>
<rect x="575.3" y="329.1" width="7.8" height="7.8" fill="#00ffff" fill-opacity="0.84" stroke="#1e3c3c" stroke-width="1"/>
<rect x="565.3" y="336.8" width="7.8" height="7.8" fill="#00ffff" fill-opacity="0.84" stroke="#1e3c3c" stroke-width="1"/>
<rect x="573.5" y="343.9" width="7.8" height="7.8" fill="#00ffff" fill-opacity="0.84" stroke="#1e3c3c" stroke-width="1"/>
<rect x="571.8" y="354.7" width="7.8" height="7.8" fill="#00ffff" fill-opacity="0.84" stroke="#1e3c3c" stroke-width="1"/>
<rect x="568.8" y="359.4" width="7.8" height="7.8" fill="#00ffff" fill-opacity="0.84" stroke="#1e3c3c" stroke-width="1"/>
<rect x="568.8" y="375.9" width="7.8" height="7.8" fill="#00ffff" fill-opacity="0.84" stroke="#1e3c3c" stroke-width="1"/>
<rect x="629.1" y="350.6" width="7.8" height="7.8" fill="#00ffff" fill-opacity="0.84" stroke="#1e3c3c" stroke-width="1"/>
<rect x="524.7" y="369.6" width="7.8" height="7.8" fill="#00ffff" fill-opacity="0.84" stroke="#1e3c3c" stroke-width="1"/>
<rect x="527.6" y="370.6" width="7.8" height="7.8" fill="#00ffff" fill-opacity="0.84" stroke="#1e3c3c" stroke-width="1"/>
<circle cx="535.4" cy="318.0" r="4.25" fill="#ff0d88" fill-opacity="0.88" stroke="#4a0a24" stroke-width="0.8"/>
<circle cx="571.3" cy="313.0" r="4.25" fill="#ff0d88" fill-opacity="0.88" stroke="#4a0a24" stroke-width="0.8"/>
<circle cx="570.9" cy="323.0" r="4.25" fill="#ff0d88" fill-opacity="0.88" stroke="#4a0a24" stroke-width="0.8"/>
<circle cx="578.0" cy="322.4" r="4.25" fill="#ff0d88" fill-opacity="0.88" stroke="#4a0a24" stroke-width="0.8"/>
<circle cx="585.9" cy="318.3" r="4.25" fill="#ff0d88" fill-opacity="0.88" stroke="#4a0a24" stroke-width="0.8"/>
<circle cx="596.9" cy="337.8" r="4.25" fill="#ff0d88" fill-opacity="0.88" stroke="#4a0a24" stroke-width="0.8"/>
<circle cx="603.3" cy="343.7" r="4.25" fill="#ff0d88" fill-opacity="0.88" stroke="#4a0a24" stroke-width="0.8"/>
<circle cx="570.3" cy="346.0" r="4.25" fill="#ff0d88" fill-opacity="0.88" stroke="#4a0a24" stroke-width="0.8"/>
<circle cx="572.1" cy="348.4" r="4.25" fill="#ff0d88" fill-opacity="0.88" stroke="#4a0a24" stroke-width="0.8"/>
<circle cx="591.0" cy="351.5" r="4.25" fill="#ff0d88" fill-opacity="0.88" stroke="#4a0a24" stroke-width="0.8"/>
<circle cx="589.2" cy="356.2" r="4.25" fill="#ff0d88" fill-opacity="0.88" stroke="#4a0a24" stroke-width="0.8"/>
<circle cx="598.1" cy="365.7" r="4.25" fill="#ff0d88" fill-opacity="0.88" stroke="#4a0a24" stroke-width="0.8"/>
<circle cx="601.6" cy="373.3" r="4.25" fill="#ff0d88" fill-opacity="0.88" stroke="#4a0a24" stroke-width="0.8"/>
<circle cx="607.2" cy="359.1" r="4.25" fill="#ff0d88" fill-opacity="0.88" stroke="#4a0a24" stroke-width="0.8"/>
<circle cx="608.3" cy="411.1" r="4.25" fill="#ff0d88" fill-opacity="0.88" stroke="#4a0a24" stroke-width="0.8"/>
<path d="M411.0 336.1 L412.0 336.1 L413.0 336.0 L414.0 336.0 L415.0 336.0 L416.0 336.0 L417.0 336.0 L418.0 335.9 L419.0 335.9 L420.0 335.9 L421.0 335.9 L422.0 335.9 L423.0 335.9 L424.0 335.9 L425.0 335.9 L426.0 335.9 L427.0 335.9 L428.0 335.8 L429.0 335.8 L430.0 335.8 L431.0 335.8 L432.0 335.8 L433.0 335.8 L434.0 335.8 L435.0 335.8 L436.0 335.8 L437.0 335.9 L438.0 335.9 L439.0 335.9 L440.0 335.9 L441.0 335.9 L442.0 335.9 L443.0 335.9 L444.0 335.9 L445.0 335.9 L446.0 335.9 L447.0 335.9 L448.0 335.9 L449.0 336.0 L450.0 336.0 L451.0 336.0 L452.0 336.0 L453.0 336.0 L454.0 336.0 L455.0 336.0 L456.0 336.1 L457.0 336.1 L458.0 336.1 L459.0 336.1 L460.0 336.1 L461.0 336.1 L462.0 336.2 L463.0 336.2 L464.0 336.2 L465.0 336.2 L466.0 336.2 L467.0 336.2 L468.0 336.3 L469.0 336.3 L470.0 336.3 L471.0 336.3 L472.0 336.3 L473.0 336.4 L474.0 336.4 L475.0 336.4 L476.0 336.4 L477.0 336.4 L478.0 336.4 L479.0 336.5 L480.0 336.5 L481.0 336.5 L482.0 336.5 L483.0 336.5 L484.0 336.5 L485.0 336.6 L486.0 336.6 L487.0 336.6 L488.0 336.6 L489.0 336.6 L490.0 336.6 L491.0 336.7 L492.0 336.7 L493.0 336.7 L494.0 336.7 L495.0 336.7 L496.0 336.7 L497.0 336.7 L498.0 336.7 L499.0 336.8 L500.0 336.8 L501.0 336.8 L502.0 336.8 L503.0 336.8 L504.0 336.8 L505.0 336.8 L506.0 336.8 L507.0 336.8 L508.0 336.8 L509.0 336.9 L510.0 336.9 L511.0 336.9 L512.0 336.9 L513.0 336.9 L514.0 336.9 L515.0 336.9 L516.0 337.0 L517.0 337.0 L518.0 337.0 L519.0 337.1 L520.0 337.1 L521.0 337.1 L522.0 337.2 L523.0 337.3 L524.0 337.3 L525.0 337.4 L526.0 337.5 L527.0 337.6 L528.0 337.7 L529.0 337.9 L530.0 338.0 L531.0 338.2 L532.0 338.4 L533.0 338.6 L534.0 338.9 L535.0 339.2 L536.0 339.5 L537.0 339.8 L538.0 340.2 L539.0 340.6 L540.0 341.1 L541.0 341.6 L542.0 342.1 L543.0 342.7 L544.0 343.3 L545.0 344.0 L546.0 344.7 L547.0 345.4 L548.0 346.2 L549.0 347.0 L550.0 347.8 L551.0 348.6 L552.0 349.5 L553.0 350.4 L554.0 351.3 L555.0 352.2 L556.0 353.2 L557.0 354.2 L558.0 355.2 L559.0 356.2 L560.0 357.2 L561.0 358.3 L562.0 359.3 L563.0 360.4 L564.0 361.5 L565.0 362.6 L566.0 363.8 L567.0 364.9 L568.0 366.1 L569.0 367.3 L570.0 368.5 L571.0 369.8 L572.0 371.0 L573.0 372.3 L574.0 373.6 L575.0 374.9 L576.0 376.2 L577.0 377.6 L578.0 378.9 L579.0 380.3 L580.0 381.6 L581.0 383.0 L582.0 384.3 L583.0 385.7 L584.0 387.0 L585.0 388.3 L586.0 389.6 L587.0 390.8 L588.0 392.1 L589.0 393.3 L590.0 394.4 L591.0 395.6 L592.0 396.7 L593.0 397.8 L594.0 398.9 L595.0 399.9 L596.0 400.9 L597.0 402.0 L598.0 403.0 L599.0 403.9 L600.0 404.9 L601.0 405.9 L602.0 406.8 L603.0 407.8 L604.0 408.7 L605.0 409.6 L606.0 410.6 L607.0 411.5 L608.0 412.4 L609.0 413.4 L610.0 414.3 L611.0 415.2 L612.0 416.2 L613.0 417.1 L614.0 418.1 L615.0 419.1 L616.0 420.1 L617.0 421.1 L618.0 422.1 L619.0 423.2 L620.0 424.2 L621.0 425.3 L622.0 426.5 L623.0 427.6 L624.0 428.8 L625.0 430.0 L626.0 431.2 L627.0 432.5 L628.0 433.8 L629.0 435.1 L630.0 436.5 L631.0 437.9 L632.0 439.3 L633.0 440.5 L634.0 441.6" fill="none" stroke="#363636" stroke-width="2.0"/>
<path d="M411.0 323.9 L412.0 323.9 L413.0 323.9 L414.0 323.9 L415.0 323.9 L416.0 324.0 L417.0 324.0 L418.0 324.0 L419.0 324.0 L420.0 324.0 L421.0 324.0 L422.0 324.0 L423.0 324.0 L424.0 324.0 L425.0 324.0 L426.0 324.0 L427.0 324.0 L428.0 324.0 L429.0 323.9 L430.0 323.9 L431.0 323.9 L432.0 323.9 L433.0 323.9 L434.0 323.9 L435.0 323.9 L436.0 323.9 L437.0 323.9 L438.0 323.8 L439.0 323.8 L440.0 323.8 L441.0 323.8 L442.0 323.8 L443.0 323.8 L444.0 323.8 L445.0 323.7 L446.0 323.7 L447.0 323.7 L448.0 323.7 L449.0 323.7 L450.0 323.7 L451.0 323.7 L452.0 323.7 L453.0 323.6 L454.0 323.6 L455.0 323.6 L456.0 323.6 L457.0 323.6 L458.0 323.6 L459.0 323.6 L460.0 323.6 L461.0 323.6 L462.0 323.6 L463.0 323.6 L464.0 323.6 L465.0 323.6 L466.0 323.6 L467.0 323.6 L468.0 323.6 L469.0 323.6 L470.0 323.6 L471.0 323.6 L472.0 323.6 L473.0 323.6 L474.0 323.6 L475.0 323.6 L476.0 323.6 L477.0 323.7 L478.0 323.7 L479.0 323.7 L480.0 323.7 L481.0 323.7 L482.0 323.8 L483.0 323.8 L484.0 323.8 L485.0 323.9 L486.0 323.9 L487.0 323.9 L488.0 324.0 L489.0 324.0 L490.0 324.1 L491.0 324.1 L492.0 324.1 L493.0 324.2 L494.0 324.2 L495.0 324.3 L496.0 324.3 L497.0 324.3 L498.0 324.4 L499.0 324.4 L500.0 324.4 L501.0 324.5 L502.0 324.5 L503.0 324.6 L504.0 324.6 L505.0 324.6 L506.0 324.6 L507.0 324.7 L508.0 324.7 L509.0 324.7 L510.0 324.7 L511.0 324.8 L512.0 324.8 L513.0 324.8 L514.0 324.8 L515.0 324.8 L516.0 324.8 L517.0 324.8 L518.0 324.9 L519.0 324.9 L520.0 324.9 L521.0 324.9 L522.0 324.9 L523.0 324.9 L524.0 324.9 L525.0 325.0 L526.0 325.0 L527.0 325.0 L528.0 325.1 L529.0 325.2 L530.0 325.3 L531.0 325.4 L532.0 325.6 L533.0 325.7 L534.0 326.0 L535.0 326.2 L536.0 326.5 L537.0 326.8 L538.0 327.2 L539.0 327.7 L540.0 328.1 L541.0 328.7 L542.0 329.2 L543.0 329.9 L544.0 330.5 L545.0 331.3 L546.0 332.0 L547.0 332.8 L548.0 333.7 L549.0 334.5 L550.0 335.4 L551.0 336.3 L552.0 337.3 L553.0 338.3 L554.0 339.3 L555.0 340.3 L556.0 341.3 L557.0 342.3 L558.0 343.4 L559.0 344.4 L560.0 345.5 L561.0 346.6 L562.0 347.7 L563.0 348.8 L564.0 350.0 L565.0 351.1 L566.0 352.2 L567.0 353.4 L568.0 354.6 L569.0 355.8 L570.0 356.9 L571.0 358.1 L572.0 359.4 L573.0 360.6 L574.0 361.8 L575.0 363.1 L576.0 364.4 L577.0 365.6 L578.0 366.9 L579.0 368.2 L580.0 369.5 L581.0 370.8 L582.0 372.0 L583.0 373.3 L584.0 374.6 L585.0 375.9 L586.0 377.1 L587.0 378.4 L588.0 379.6 L589.0 380.8 L590.0 382.1 L591.0 383.3 L592.0 384.5 L593.0 385.6 L594.0 386.8 L595.0 387.9 L596.0 389.1 L597.0 390.2 L598.0 391.3 L599.0 392.4 L600.0 393.5 L601.0 394.6 L602.0 395.7 L603.0 396.8 L604.0 397.8 L605.0 398.9 L606.0 399.9 L607.0 401.0 L608.0 402.0 L609.0 403.0 L610.0 404.0 L611.0 405.1 L612.0 406.1 L613.0 407.1 L614.0 408.1 L615.0 409.1 L616.0 410.1 L617.0 411.1 L618.0 412.1 L619.0 413.2 L620.0 414.2 L621.0 415.2 L622.0 416.2 L623.0 417.3 L624.0 418.3 L625.0 419.4 L626.0 420.4 L627.0 421.5 L628.0 422.6 L629.0 423.7 L630.0 424.8 L631.0 425.9 L632.0 427.0 L633.0 428.1 L634.0 429.3 L635.0 430.5 L636.0 431.7 L637.0 432.9 L638.0 434.1 L639.0 435.3 L640.0 436.6 L641.0 437.8 L642.0 439.0 L643.0 440.1 L644.0 441.2 L645.0 442.4" fill="none" stroke="#363636" stroke-width="2.0" stroke-dasharray="11.4 4.4 1.7 4.4"/>
</g>
<text x="92.8" y="226.7" font-size="18.9" fill="#1a1a1a"><tspan font-style="italic">A</tspan><tspan font-size="14.5" dy="4.5">e</tspan><tspan dy="-4.5">:0.02g</tspan></text>
<text x="419.8" y="226.7" font-size="18.9" fill="#1a1a1a"><tspan font-style="italic">A</tspan><tspan font-size="14.5" dy="4.5">e</tspan><tspan dy="-4.5">:0.05g</tspan></text>
<text x="92.8" y="426.2" font-size="18.9" fill="#1a1a1a"><tspan font-style="italic">A</tspan><tspan font-size="14.5" dy="4.5">e</tspan><tspan dy="-4.5">:0.1g</tspan></text>
<text x="419.8" y="426.2" font-size="18.9" fill="#1a1a1a"><tspan font-style="italic">A</tspan><tspan font-size="14.5" dy="4.5">e</tspan><tspan dy="-4.5">:0.2g</tspan></text>
<rect x="84" y="69.20" width="256.50" height="170.80" fill="none" stroke="#000" stroke-width="1.8"/>
<path d="M84.00 240.00v8M84.00 69.20v-8M99.44 240.00v4M99.44 69.20v-4M108.48 240.00v4M108.48 69.20v-4M114.89 240.00v4M114.89 69.20v-4M119.86 240.00v4M119.86 69.20v-4M123.92 240.00v4M123.92 69.20v-4M127.35 240.00v4M127.35 69.20v-4M130.33 240.00v4M130.33 69.20v-4M132.95 240.00v4M132.95 69.20v-4M135.30 240.00v8M135.30 69.20v-8M150.74 240.00v4M150.74 69.20v-4M159.78 240.00v4M159.78 69.20v-4M166.19 240.00v4M166.19 69.20v-4M171.16 240.00v4M171.16 69.20v-4M175.22 240.00v4M175.22 69.20v-4M178.65 240.00v4M178.65 69.20v-4M181.63 240.00v4M181.63 69.20v-4M184.25 240.00v4M184.25 69.20v-4M186.60 240.00v8M186.60 69.20v-8M202.04 240.00v4M202.04 69.20v-4M211.08 240.00v4M211.08 69.20v-4M217.49 240.00v4M217.49 69.20v-4M222.46 240.00v4M222.46 69.20v-4M226.52 240.00v4M226.52 69.20v-4M229.95 240.00v4M229.95 69.20v-4M232.93 240.00v4M232.93 69.20v-4M235.55 240.00v4M235.55 69.20v-4M237.90 240.00v8M237.90 69.20v-8M253.34 240.00v4M253.34 69.20v-4M262.38 240.00v4M262.38 69.20v-4M268.79 240.00v4M268.79 69.20v-4M273.76 240.00v4M273.76 69.20v-4M277.82 240.00v4M277.82 69.20v-4M281.25 240.00v4M281.25 69.20v-4M284.23 240.00v4M284.23 69.20v-4M286.85 240.00v4M286.85 69.20v-4M289.20 240.00v8M289.20 69.20v-8M304.64 240.00v4M304.64 69.20v-4M313.68 240.00v4M313.68 69.20v-4M320.09 240.00v4M320.09 69.20v-4M325.06 240.00v4M325.06 69.20v-4M329.12 240.00v4M329.12 69.20v-4M332.55 240.00v4M332.55 69.20v-4M335.53 240.00v4M335.53 69.20v-4M338.15 240.00v4M338.15 69.20v-4M340.50 240.00v8M340.50 69.20v-8M84.00 240.00h-8M340.50 240.00h8M84.00 230.30h-4M340.50 230.30h4M84.00 224.63h-4M340.50 224.63h4M84.00 220.60h-4M340.50 220.60h4M84.00 217.48h-4M340.50 217.48h4M84.00 214.93h-4M340.50 214.93h4M84.00 212.77h-4M340.50 212.77h4M84.00 210.90h-4M340.50 210.90h4M84.00 209.25h-4M340.50 209.25h4M84.00 207.78h-8M340.50 207.78h8M84.00 198.08h-4M340.50 198.08h4M84.00 192.41h-4M340.50 192.41h4M84.00 188.38h-4M340.50 188.38h4M84.00 185.26h-4M340.50 185.26h4M84.00 182.71h-4M340.50 182.71h4M84.00 180.55h-4M340.50 180.55h4M84.00 178.68h-4M340.50 178.68h4M84.00 177.03h-4M340.50 177.03h4M84.00 175.56h-8M340.50 175.56h8M84.00 165.86h-4M340.50 165.86h4M84.00 160.19h-4M340.50 160.19h4M84.00 156.16h-4M340.50 156.16h4M84.00 153.04h-4M340.50 153.04h4M84.00 150.49h-4M340.50 150.49h4M84.00 148.33h-4M340.50 148.33h4M84.00 146.46h-4M340.50 146.46h4M84.00 144.81h-4M340.50 144.81h4M84.00 143.34h-8M340.50 143.34h8M84.00 133.64h-4M340.50 133.64h4M84.00 127.97h-4M340.50 127.97h4M84.00 123.94h-4M340.50 123.94h4M84.00 120.82h-4M340.50 120.82h4M84.00 118.27h-4M340.50 118.27h4M84.00 116.11h-4M340.50 116.11h4M84.00 114.24h-4M340.50 114.24h4M84.00 112.59h-4M340.50 112.59h4M84.00 111.12h-8M340.50 111.12h8M84.00 101.42h-4M340.50 101.42h4M84.00 95.75h-4M340.50 95.75h4M84.00 91.72h-4M340.50 91.72h4M84.00 88.60h-4M340.50 88.60h4M84.00 86.05h-4M340.50 86.05h4M84.00 83.89h-4M340.50 83.89h4M84.00 82.02h-4M340.50 82.02h4M84.00 80.37h-4M340.50 80.37h4M84.00 78.90h-8M340.50 78.90h8M84.00 69.20h-4M340.50 69.20h4" stroke="#000" stroke-width="1.7" fill="none"/>
<text x="69.5" y="246.2" font-size="18" text-anchor="end">0.01</text>
<text x="69.5" y="214.0" font-size="18" text-anchor="end">0.1</text>
<text x="69.5" y="181.8" font-size="18" text-anchor="end">1</text>
<text x="69.5" y="149.5" font-size="18" text-anchor="end">10</text>
<text x="69.5" y="117.3" font-size="18" text-anchor="end">100</text>
<text x="69.5" y="85.1" font-size="18" text-anchor="end">1000</text>
<rect x="411" y="69.20" width="256.40" height="170.80" fill="none" stroke="#000" stroke-width="1.8"/>
<path d="M411.00 240.00v8M411.00 69.20v-8M426.44 240.00v4M426.44 69.20v-4M435.47 240.00v4M435.47 69.20v-4M441.87 240.00v4M441.87 69.20v-4M446.84 240.00v4M446.84 69.20v-4M450.90 240.00v4M450.90 69.20v-4M454.34 240.00v4M454.34 69.20v-4M457.31 240.00v4M457.31 69.20v-4M459.93 240.00v4M459.93 69.20v-4M462.28 240.00v8M462.28 69.20v-8M477.72 240.00v4M477.72 69.20v-4M486.75 240.00v4M486.75 69.20v-4M493.15 240.00v4M493.15 69.20v-4M498.12 240.00v4M498.12 69.20v-4M502.18 240.00v4M502.18 69.20v-4M505.62 240.00v4M505.62 69.20v-4M508.59 240.00v4M508.59 69.20v-4M511.21 240.00v4M511.21 69.20v-4M513.56 240.00v8M513.56 69.20v-8M529.00 240.00v4M529.00 69.20v-4M538.03 240.00v4M538.03 69.20v-4M544.43 240.00v4M544.43 69.20v-4M549.40 240.00v4M549.40 69.20v-4M553.46 240.00v4M553.46 69.20v-4M556.90 240.00v4M556.90 69.20v-4M559.87 240.00v4M559.87 69.20v-4M562.49 240.00v4M562.49 69.20v-4M564.84 240.00v8M564.84 69.20v-8M580.28 240.00v4M580.28 69.20v-4M589.31 240.00v4M589.31 69.20v-4M595.71 240.00v4M595.71 69.20v-4M600.68 240.00v4M600.68 69.20v-4M604.74 240.00v4M604.74 69.20v-4M608.18 240.00v4M608.18 69.20v-4M611.15 240.00v4M611.15 69.20v-4M613.77 240.00v4M613.77 69.20v-4M616.12 240.00v8M616.12 69.20v-8M631.56 240.00v4M631.56 69.20v-4M640.59 240.00v4M640.59 69.20v-4M646.99 240.00v4M646.99 69.20v-4M651.96 240.00v4M651.96 69.20v-4M656.02 240.00v4M656.02 69.20v-4M659.46 240.00v4M659.46 69.20v-4M662.43 240.00v4M662.43 69.20v-4M665.05 240.00v4M665.05 69.20v-4M667.40 240.00v8M667.40 69.20v-8M411.00 240.00h-8M667.40 240.00h8M411.00 230.30h-4M667.40 230.30h4M411.00 224.63h-4M667.40 224.63h4M411.00 220.60h-4M667.40 220.60h4M411.00 217.48h-4M667.40 217.48h4M411.00 214.93h-4M667.40 214.93h4M411.00 212.77h-4M667.40 212.77h4M411.00 210.90h-4M667.40 210.90h4M411.00 209.25h-4M667.40 209.25h4M411.00 207.78h-8M667.40 207.78h8M411.00 198.08h-4M667.40 198.08h4M411.00 192.41h-4M667.40 192.41h4M411.00 188.38h-4M667.40 188.38h4M411.00 185.26h-4M667.40 185.26h4M411.00 182.71h-4M667.40 182.71h4M411.00 180.55h-4M667.40 180.55h4M411.00 178.68h-4M667.40 178.68h4M411.00 177.03h-4M667.40 177.03h4M411.00 175.56h-8M667.40 175.56h8M411.00 165.86h-4M667.40 165.86h4M411.00 160.19h-4M667.40 160.19h4M411.00 156.16h-4M667.40 156.16h4M411.00 153.04h-4M667.40 153.04h4M411.00 150.49h-4M667.40 150.49h4M411.00 148.33h-4M667.40 148.33h4M411.00 146.46h-4M667.40 146.46h4M411.00 144.81h-4M667.40 144.81h4M411.00 143.34h-8M667.40 143.34h8M411.00 133.64h-4M667.40 133.64h4M411.00 127.97h-4M667.40 127.97h4M411.00 123.94h-4M667.40 123.94h4M411.00 120.82h-4M667.40 120.82h4M411.00 118.27h-4M667.40 118.27h4M411.00 116.11h-4M667.40 116.11h4M411.00 114.24h-4M667.40 114.24h4M411.00 112.59h-4M667.40 112.59h4M411.00 111.12h-8M667.40 111.12h8M411.00 101.42h-4M667.40 101.42h4M411.00 95.75h-4M667.40 95.75h4M411.00 91.72h-4M667.40 91.72h4M411.00 88.60h-4M667.40 88.60h4M411.00 86.05h-4M667.40 86.05h4M411.00 83.89h-4M667.40 83.89h4M411.00 82.02h-4M667.40 82.02h4M411.00 80.37h-4M667.40 80.37h4M411.00 78.90h-8M667.40 78.90h8M411.00 69.20h-4M667.40 69.20h4" stroke="#000" stroke-width="1.7" fill="none"/>
<text x="396.5" y="246.2" font-size="18" text-anchor="end">0.01</text>
<text x="396.5" y="214.0" font-size="18" text-anchor="end">0.1</text>
<text x="396.5" y="181.8" font-size="18" text-anchor="end">1</text>
<text x="396.5" y="149.5" font-size="18" text-anchor="end">10</text>
<text x="396.5" y="117.3" font-size="18" text-anchor="end">100</text>
<text x="396.5" y="85.1" font-size="18" text-anchor="end">1000</text>
<rect x="84" y="268.70" width="256.50" height="170.80" fill="none" stroke="#000" stroke-width="1.8"/>
<path d="M84.00 439.50v8M84.00 268.70v-8M99.44 439.50v4M99.44 268.70v-4M108.48 439.50v4M108.48 268.70v-4M114.89 439.50v4M114.89 268.70v-4M119.86 439.50v4M119.86 268.70v-4M123.92 439.50v4M123.92 268.70v-4M127.35 439.50v4M127.35 268.70v-4M130.33 439.50v4M130.33 268.70v-4M132.95 439.50v4M132.95 268.70v-4M135.30 439.50v8M135.30 268.70v-8M150.74 439.50v4M150.74 268.70v-4M159.78 439.50v4M159.78 268.70v-4M166.19 439.50v4M166.19 268.70v-4M171.16 439.50v4M171.16 268.70v-4M175.22 439.50v4M175.22 268.70v-4M178.65 439.50v4M178.65 268.70v-4M181.63 439.50v4M181.63 268.70v-4M184.25 439.50v4M184.25 268.70v-4M186.60 439.50v8M186.60 268.70v-8M202.04 439.50v4M202.04 268.70v-4M211.08 439.50v4M211.08 268.70v-4M217.49 439.50v4M217.49 268.70v-4M222.46 439.50v4M222.46 268.70v-4M226.52 439.50v4M226.52 268.70v-4M229.95 439.50v4M229.95 268.70v-4M232.93 439.50v4M232.93 268.70v-4M235.55 439.50v4M235.55 268.70v-4M237.90 439.50v8M237.90 268.70v-8M253.34 439.50v4M253.34 268.70v-4M262.38 439.50v4M262.38 268.70v-4M268.79 439.50v4M268.79 268.70v-4M273.76 439.50v4M273.76 268.70v-4M277.82 439.50v4M277.82 268.70v-4M281.25 439.50v4M281.25 268.70v-4M284.23 439.50v4M284.23 268.70v-4M286.85 439.50v4M286.85 268.70v-4M289.20 439.50v8M289.20 268.70v-8M304.64 439.50v4M304.64 268.70v-4M313.68 439.50v4M313.68 268.70v-4M320.09 439.50v4M320.09 268.70v-4M325.06 439.50v4M325.06 268.70v-4M329.12 439.50v4M329.12 268.70v-4M332.55 439.50v4M332.55 268.70v-4M335.53 439.50v4M335.53 268.70v-4M338.15 439.50v4M338.15 268.70v-4M340.50 439.50v8M340.50 268.70v-8M84.00 439.50h-8M340.50 439.50h8M84.00 429.22h-4M340.50 429.22h4M84.00 423.20h-4M340.50 423.20h4M84.00 418.93h-4M340.50 418.93h4M84.00 415.62h-4M340.50 415.62h4M84.00 412.92h-4M340.50 412.92h4M84.00 410.63h-4M340.50 410.63h4M84.00 408.65h-4M340.50 408.65h4M84.00 406.90h-4M340.50 406.90h4M84.00 405.34h-8M340.50 405.34h8M84.00 395.06h-4M340.50 395.06h4M84.00 389.04h-4M340.50 389.04h4M84.00 384.77h-4M340.50 384.77h4M84.00 381.46h-4M340.50 381.46h4M84.00 378.76h-4M340.50 378.76h4M84.00 376.47h-4M340.50 376.47h4M84.00 374.49h-4M340.50 374.49h4M84.00 372.74h-4M340.50 372.74h4M84.00 371.18h-8M340.50 371.18h8M84.00 360.90h-4M340.50 360.90h4M84.00 354.88h-4M340.50 354.88h4M84.00 350.61h-4M340.50 350.61h4M84.00 347.30h-4M340.50 347.30h4M84.00 344.60h-4M340.50 344.60h4M84.00 342.31h-4M340.50 342.31h4M84.00 340.33h-4M340.50 340.33h4M84.00 338.58h-4M340.50 338.58h4M84.00 337.02h-8M340.50 337.02h8M84.00 326.74h-4M340.50 326.74h4M84.00 320.72h-4M340.50 320.72h4M84.00 316.45h-4M340.50 316.45h4M84.00 313.14h-4M340.50 313.14h4M84.00 310.44h-4M340.50 310.44h4M84.00 308.15h-4M340.50 308.15h4M84.00 306.17h-4M340.50 306.17h4M84.00 304.42h-4M340.50 304.42h4M84.00 302.86h-8M340.50 302.86h8M84.00 292.58h-4M340.50 292.58h4M84.00 286.56h-4M340.50 286.56h4M84.00 282.29h-4M340.50 282.29h4M84.00 278.98h-4M340.50 278.98h4M84.00 276.28h-4M340.50 276.28h4M84.00 273.99h-4M340.50 273.99h4M84.00 272.01h-4M340.50 272.01h4M84.00 270.26h-4M340.50 270.26h4M84.00 268.70h-8M340.50 268.70h8" stroke="#000" stroke-width="1.7" fill="none"/>
<text x="69.5" y="445.7" font-size="18" text-anchor="end">0.01</text>
<text x="69.5" y="411.5" font-size="18" text-anchor="end">0.1</text>
<text x="69.5" y="377.4" font-size="18" text-anchor="end">1</text>
<text x="69.5" y="343.2" font-size="18" text-anchor="end">10</text>
<text x="69.5" y="309.1" font-size="18" text-anchor="end">100</text>
<text x="69.5" y="274.9" font-size="18" text-anchor="end">1000</text>
<text x="84.0" y="467.0" font-size="18" text-anchor="middle">0.01</text>
<text x="135.3" y="467.0" font-size="18" text-anchor="middle">0.1</text>
<text x="186.6" y="467.0" font-size="18" text-anchor="middle">1</text>
<text x="237.9" y="467.0" font-size="18" text-anchor="middle">10</text>
<text x="289.2" y="467.0" font-size="18" text-anchor="middle">100</text>
<text x="340.5" y="467.0" font-size="18" text-anchor="middle">1000</text>
<rect x="411" y="268.70" width="256.40" height="170.80" fill="none" stroke="#000" stroke-width="1.8"/>
<path d="M411.00 439.50v8M411.00 268.70v-8M426.44 439.50v4M426.44 268.70v-4M435.47 439.50v4M435.47 268.70v-4M441.87 439.50v4M441.87 268.70v-4M446.84 439.50v4M446.84 268.70v-4M450.90 439.50v4M450.90 268.70v-4M454.34 439.50v4M454.34 268.70v-4M457.31 439.50v4M457.31 268.70v-4M459.93 439.50v4M459.93 268.70v-4M462.28 439.50v8M462.28 268.70v-8M477.72 439.50v4M477.72 268.70v-4M486.75 439.50v4M486.75 268.70v-4M493.15 439.50v4M493.15 268.70v-4M498.12 439.50v4M498.12 268.70v-4M502.18 439.50v4M502.18 268.70v-4M505.62 439.50v4M505.62 268.70v-4M508.59 439.50v4M508.59 268.70v-4M511.21 439.50v4M511.21 268.70v-4M513.56 439.50v8M513.56 268.70v-8M529.00 439.50v4M529.00 268.70v-4M538.03 439.50v4M538.03 268.70v-4M544.43 439.50v4M544.43 268.70v-4M549.40 439.50v4M549.40 268.70v-4M553.46 439.50v4M553.46 268.70v-4M556.90 439.50v4M556.90 268.70v-4M559.87 439.50v4M559.87 268.70v-4M562.49 439.50v4M562.49 268.70v-4M564.84 439.50v8M564.84 268.70v-8M580.28 439.50v4M580.28 268.70v-4M589.31 439.50v4M589.31 268.70v-4M595.71 439.50v4M595.71 268.70v-4M600.68 439.50v4M600.68 268.70v-4M604.74 439.50v4M604.74 268.70v-4M608.18 439.50v4M608.18 268.70v-4M611.15 439.50v4M611.15 268.70v-4M613.77 439.50v4M613.77 268.70v-4M616.12 439.50v8M616.12 268.70v-8M631.56 439.50v4M631.56 268.70v-4M640.59 439.50v4M640.59 268.70v-4M646.99 439.50v4M646.99 268.70v-4M651.96 439.50v4M651.96 268.70v-4M656.02 439.50v4M656.02 268.70v-4M659.46 439.50v4M659.46 268.70v-4M662.43 439.50v4M662.43 268.70v-4M665.05 439.50v4M665.05 268.70v-4M667.40 439.50v8M667.40 268.70v-8M411.00 439.50h-8M667.40 439.50h8M411.00 429.22h-4M667.40 429.22h4M411.00 423.20h-4M667.40 423.20h4M411.00 418.93h-4M667.40 418.93h4M411.00 415.62h-4M667.40 415.62h4M411.00 412.92h-4M667.40 412.92h4M411.00 410.63h-4M667.40 410.63h4M411.00 408.65h-4M667.40 408.65h4M411.00 406.90h-4M667.40 406.90h4M411.00 405.34h-8M667.40 405.34h8M411.00 395.06h-4M667.40 395.06h4M411.00 389.04h-4M667.40 389.04h4M411.00 384.77h-4M667.40 384.77h4M411.00 381.46h-4M667.40 381.46h4M411.00 378.76h-4M667.40 378.76h4M411.00 376.47h-4M667.40 376.47h4M411.00 374.49h-4M667.40 374.49h4M411.00 372.74h-4M667.40 372.74h4M411.00 371.18h-8M667.40 371.18h8M411.00 360.90h-4M667.40 360.90h4M411.00 354.88h-4M667.40 354.88h4M411.00 350.61h-4M667.40 350.61h4M411.00 347.30h-4M667.40 347.30h4M411.00 344.60h-4M667.40 344.60h4M411.00 342.31h-4M667.40 342.31h4M411.00 340.33h-4M667.40 340.33h4M411.00 338.58h-4M667.40 338.58h4M411.00 337.02h-8M667.40 337.02h8M411.00 326.74h-4M667.40 326.74h4M411.00 320.72h-4M667.40 320.72h4M411.00 316.45h-4M667.40 316.45h4M411.00 313.14h-4M667.40 313.14h4M411.00 310.44h-4M667.40 310.44h4M411.00 308.15h-4M667.40 308.15h4M411.00 306.17h-4M667.40 306.17h4M411.00 304.42h-4M667.40 304.42h4M411.00 302.86h-8M667.40 302.86h8M411.00 292.58h-4M667.40 292.58h4M411.00 286.56h-4M667.40 286.56h4M411.00 282.29h-4M667.40 282.29h4M411.00 278.98h-4M667.40 278.98h4M411.00 276.28h-4M667.40 276.28h4M411.00 273.99h-4M667.40 273.99h4M411.00 272.01h-4M667.40 272.01h4M411.00 270.26h-4M667.40 270.26h4M411.00 268.70h-8M667.40 268.70h8" stroke="#000" stroke-width="1.7" fill="none"/>
<text x="396.5" y="445.7" font-size="18" text-anchor="end">0.01</text>
<text x="396.5" y="411.5" font-size="18" text-anchor="end">0.1</text>
<text x="396.5" y="377.4" font-size="18" text-anchor="end">1</text>
<text x="396.5" y="343.2" font-size="18" text-anchor="end">10</text>
<text x="396.5" y="309.1" font-size="18" text-anchor="end">100</text>
<text x="396.5" y="274.9" font-size="18" text-anchor="end">1000</text>
<text x="411.0" y="467.0" font-size="18" text-anchor="middle">0.01</text>
<text x="462.3" y="467.0" font-size="18" text-anchor="middle">0.1</text>
<text x="513.6" y="467.0" font-size="18" text-anchor="middle">1</text>
<text x="564.8" y="467.0" font-size="18" text-anchor="middle">10</text>
<text x="616.1" y="467.0" font-size="18" text-anchor="middle">100</text>
<text x="667.4" y="467.0" font-size="18" text-anchor="middle">1000</text>
<rect x="83.5" y="0.5" width="508" height="54" fill="none" stroke="#333" stroke-width="1"/>
<line x1="83" y1="0.8" x2="592" y2="0.8" stroke="#8c8c8c" stroke-width="1.6"/>
<rect x="104.4" y="11.4" width="7.8" height="7.8" fill="#00ffff" fill-opacity="0.84" stroke="#1e3c3c" stroke-width="1"/>
<circle cx="326.6" cy="15.2" r="3.95" fill="#ff1485" fill-opacity="0.72" stroke="#5a0a2c" stroke-width="0.9"/>
<line x1="85.3" y1="40.3" x2="132.2" y2="40.3" stroke="#3a3a3a" stroke-width="2.2"/>
<line x1="330.7" y1="40.5" x2="377" y2="40.5" stroke="#3a3a3a" stroke-width="2.2" stroke-dasharray="11.4 4.4 1.7 4.4"/>
<text x="136" y="21.8" font-size="20.3">Pazarclk earthquake</text>
<text x="356.2" y="21.8" font-size="20.3">Wenchuan earthquake</text>
<text x="136" y="47.3" font-size="20.3">DW2016 for Strike slip</text>
<text x="382.6" y="47.3" font-size="20.3">DW2016 for Reverse slip</text>
<text transform="translate(14.6,143.2) rotate(-90)" font-size="20.8" text-anchor="middle"><tspan font-style="italic">D</tspan><tspan font-size="14" dy="4">n</tspan><tspan dy="-4">(cm)</tspan></text>
<text transform="translate(20.2,353.9) rotate(-90)" font-size="20.8" text-anchor="middle"><tspan font-style="italic">D</tspan><tspan font-size="14" dy="4">n</tspan><tspan dy="-4">(cm)</tspan></text>
<text x="177" y="500" font-size="20"><tspan font-style="italic">R</tspan><tspan font-size="14" dy="4">rup</tspan><tspan dy="-4">[km]</tspan></text>
<text x="504" y="500" font-size="20"><tspan font-style="italic">R</tspan><tspan font-size="14" dy="4">rup</tspan><tspan dy="-4">[km]</tspan></text>
</svg></body></html>
